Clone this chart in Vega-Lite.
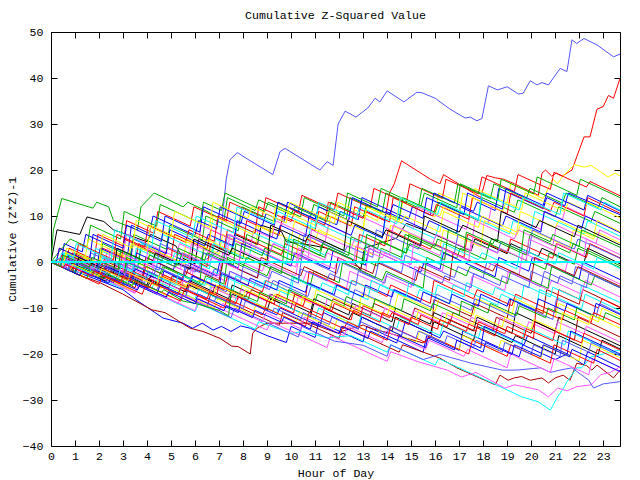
{
"$schema":"https://vega.github.io/schema/vega-lite/v6.json",
"width":569,"height":414,
"autosize":"none",
"padding":{"left":51,"top":32,"right":20,"bottom":34},
"background":"white",
"title":{"text":"Cumulative Z-Squared Value","font":"Liberation Mono","fontSize":11.6,"fontWeight":"normal","color":"black","offset":4,"anchor":"middle"},
"config":{"view":{"stroke":"black","strokeWidth":1},
"axis":{"grid":false,"domain":false,"labelFont":"Liberation Mono","labelFontSize":11.6,"labelColor":"black","titleFont":"Liberation Mono","titleFontSize":11.6,"titleFontWeight":"normal","titleColor":"black","tickColor":"black","tickSize":-6,"tickWidth":1}},
"data":{"values":[
{"s":"a","h":0,"v":0},{"s":"a","h":0.5,"v":-1.2},{"s":"a","h":0.65,"v":1.5},{"s":"a","h":1.5,"v":-0.5},{"s":"a","h":1.65,"v":2},{"s":"a","h":3,"v":-1.2},{"s":"a","h":3.15,"v":1.5},{"s":"a","h":4.5,"v":-1.8},{"s":"a","h":4.65,"v":1},{"s":"a","h":6,"v":-2.2},{"s":"a","h":6.3,"v":0},{"s":"a","h":7,"v":2.5},{"s":"a","h":7.3,"v":18},{"s":"a","h":7.45,"v":22.2},{"s":"a","h":7.76,"v":23.8},{"s":"a","h":8.3,"v":22},{"s":"a","h":9.24,"v":19},{"s":"a","h":9.54,"v":24},{"s":"a","h":9.75,"v":24.7},{"s":"a","h":11.2,"v":20},{"s":"a","h":11.5,"v":21.8},{"s":"a","h":11.75,"v":21},{"s":"a","h":11.96,"v":30},{"s":"a","h":12.25,"v":32.8},{"s":"a","h":12.7,"v":31.5},{"s":"a","h":13.2,"v":33.5},{"s":"a","h":13.5,"v":35.6},{"s":"a","h":13.7,"v":34.8},{"s":"a","h":14,"v":37.2},{"s":"a","h":14.7,"v":34.8},{"s":"a","h":15.24,"v":36.9},{"s":"a","h":15.45,"v":36.8},{"s":"a","h":16,"v":35.6},{"s":"a","h":16.6,"v":33.3},{"s":"a","h":17.25,"v":31.3},{"s":"a","h":17.46,"v":31.5},{"s":"a","h":17.74,"v":30.7},{"s":"a","h":17.95,"v":31.2},{"s":"a","h":18.22,"v":38.3},{"s":"a","h":18.6,"v":37.4},{"s":"a","h":19,"v":38.1},{"s":"a","h":19.47,"v":36.5},{"s":"a","h":19.67,"v":36.7},{"s":"a","h":19.96,"v":39.4},{"s":"a","h":20.24,"v":38.5},{"s":"a","h":20.45,"v":39},{"s":"a","h":20.72,"v":38.5},{"s":"a","h":21.21,"v":42.1},{"s":"a","h":21.49,"v":41.4},{"s":"a","h":21.7,"v":48.3},{"s":"a","h":21.9,"v":47.5},{"s":"a","h":22.2,"v":48.6},{"s":"a","h":22.74,"v":47.2},{"s":"a","h":23.43,"v":44.6},{"s":"a","h":23.7,"v":45.2},
{"s":"b","h":0,"v":0},{"s":"b","h":0.75,"v":-1.8},{"s":"b","h":0.9,"v":2},{"s":"b","h":2,"v":-0.6},{"s":"b","h":2.15,"v":3},{"s":"b","h":3.5,"v":-0.2},{"s":"b","h":3.65,"v":4},{"s":"b","h":5,"v":0.8},{"s":"b","h":5.15,"v":6},{"s":"b","h":6.5,"v":2.8},{"s":"b","h":6.65,"v":7},{"s":"b","h":8,"v":3.8},{"s":"b","h":8.15,"v":9},{"s":"b","h":9.5,"v":5.8},{"s":"b","h":9.65,"v":10},{"s":"b","h":11,"v":6.8},{"s":"b","h":11.15,"v":11},{"s":"b","h":12.5,"v":7.8},{"s":"b","h":12.65,"v":12},{"s":"b","h":13.9,"v":9},{"s":"b","h":14.1,"v":15},{"s":"b","h":14.3,"v":17},{"s":"b","h":14.6,"v":22},{"s":"b","h":15.8,"v":18},{"s":"b","h":16.2,"v":17},{"s":"b","h":16.35,"v":19},{"s":"b","h":17.9,"v":14},{"s":"b","h":18.15,"v":18.8},{"s":"b","h":18.5,"v":18.3},{"s":"b","h":18.85,"v":18},{"s":"b","h":19.3,"v":17},{"s":"b","h":20.3,"v":14.5},{"s":"b","h":20.45,"v":19.3},{"s":"b","h":20.6,"v":20},{"s":"b","h":20.85,"v":18.7},{"s":"b","h":21.05,"v":19.3},{"s":"b","h":21.3,"v":18.7},{"s":"b","h":21.7,"v":20},{"s":"b","h":21.9,"v":22.9},{"s":"b","h":22.2,"v":27.2},{"s":"b","h":22.45,"v":27.2},{"s":"b","h":22.74,"v":33.2},{"s":"b","h":23,"v":33.8},{"s":"b","h":23.22,"v":36.2},{"s":"b","h":23.43,"v":35.6},{"s":"b","h":23.7,"v":39.9},
{"s":"c","h":0,"v":0},{"s":"c","h":1,"v":-2.4},{"s":"c","h":1.15,"v":1},{"s":"c","h":2.5,"v":-2.2},{"s":"c","h":2.65,"v":2},{"s":"c","h":4,"v":-1.2},{"s":"c","h":4.15,"v":3},{"s":"c","h":5.5,"v":-0.2},{"s":"c","h":5.65,"v":5},{"s":"c","h":7,"v":1.8},{"s":"c","h":7.15,"v":6},{"s":"c","h":8.5,"v":2.8},{"s":"c","h":8.65,"v":8},{"s":"c","h":10,"v":4.8},{"s":"c","h":10.15,"v":9},{"s":"c","h":11.5,"v":5.8},{"s":"c","h":11.65,"v":10},{"s":"c","h":13,"v":6.8},{"s":"c","h":13.15,"v":12},{"s":"c","h":14.5,"v":8.8},{"s":"c","h":14.65,"v":13},{"s":"c","h":16,"v":9.8},{"s":"c","h":16.15,"v":15},{"s":"c","h":17.5,"v":11.8},{"s":"c","h":17.65,"v":16},{"s":"c","h":19,"v":12.8},{"s":"c","h":19.15,"v":17},{"s":"c","h":20.5,"v":13.8},{"s":"c","h":20.9,"v":18},{"s":"c","h":21.1,"v":17},{"s":"c","h":21.3,"v":18.5},{"s":"c","h":21.8,"v":21.2},{"s":"c","h":22.2,"v":20.6},{"s":"c","h":22.5,"v":21},{"s":"c","h":23.2,"v":18.5},{"s":"c","h":23.5,"v":19.3},{"s":"c","h":23.7,"v":18.7},
{"s":"l1","h":0,"v":0},{"s":"l1","h":0.1,"v":7},{"s":"l1","h":0.45,"v":13.8},{"s":"l1","h":1.75,"v":11.7},{"s":"l1","h":1.9,"v":13},{"s":"l1","h":2.4,"v":12},{"s":"l1","h":2.6,"v":9},{"s":"l1","h":3.6,"v":7},{"s":"l1","h":3.75,"v":12},{"s":"l1","h":4.3,"v":15},{"s":"l1","h":5.5,"v":12},{"s":"l1","h":5.7,"v":13},{"s":"l1","h":6.5,"v":11},{"s":"l1","h":7.2,"v":9},{"s":"l1","h":7.35,"v":14},{"s":"l1","h":8.5,"v":11.2},{"s":"l1","h":8.65,"v":13.5},{"s":"l1","h":10,"v":10.3},{"s":"l1","h":10.15,"v":12},{"s":"l1","h":11.5,"v":8.8},{"s":"l1","h":11.65,"v":13},{"s":"l1","h":13,"v":9.8},{"s":"l1","h":13.15,"v":12.5},{"s":"l1","h":14.5,"v":9.3},{"s":"l1","h":14.65,"v":14},{"s":"l1","h":16,"v":10.8},{"s":"l1","h":16.15,"v":13},{"s":"l1","h":17.8,"v":9},{"s":"l1","h":17.95,"v":14},{"s":"l1","h":19.3,"v":10.8},{"s":"l1","h":19.45,"v":13.5},{"s":"l1","h":21,"v":9.8},{"s":"l1","h":21.15,"v":12},{"s":"l1","h":22.5,"v":8.8},{"s":"l1","h":22.65,"v":11},{"s":"l1","h":23.7,"v":8.4},
{"s":"l2","h":0,"v":0},{"s":"l2","h":0.25,"v":7},{"s":"l2","h":1.2,"v":6},{"s":"l2","h":1.5,"v":9.8},{"s":"l2","h":2.2,"v":8.8},{"s":"l2","h":2.6,"v":7},{"s":"l2","h":4,"v":4.4},{"s":"l2","h":4.15,"v":6},{"s":"l2","h":5.2,"v":3.5},{"s":"l2","h":5.5,"v":0.8},{"s":"l2","h":6,"v":-0.4},{"s":"l2","h":6.15,"v":5},{"s":"l2","h":7.5,"v":1.8},{"s":"l2","h":7.65,"v":6},{"s":"l2","h":8.6,"v":3.8},{"s":"l2","h":8.75,"v":8},{"s":"l2","h":9.6,"v":6.6},{"s":"l2","h":9.8,"v":4.4},{"s":"l2","h":10.8,"v":3.7},{"s":"l2","h":11.5,"v":3},{"s":"l2","h":12.5,"v":0.7},{"s":"l2","h":12.9,"v":-1.7},{"s":"l2","h":13.05,"v":3},{"s":"l2","h":14.4,"v":5.2},{"s":"l2","h":14.8,"v":8.4},{"s":"l2","h":15.5,"v":7},{"s":"l2","h":16.5,"v":4.8},{"s":"l2","h":17,"v":3.6},{"s":"l2","h":17.5,"v":2.4},{"s":"l2","h":17.65,"v":5},{"s":"l2","h":19,"v":1.8},{"s":"l2","h":19.15,"v":4},{"s":"l2","h":20.3,"v":1.2},{"s":"l2","h":20.45,"v":3},{"s":"l2","h":21.6,"v":0.2},{"s":"l2","h":22.2,"v":-0.2},{"s":"l2","h":22.35,"v":3},{"s":"l2","h":23,"v":1.4},{"s":"l2","h":23.7,"v":-0.4},
{"s":"l3","h":0,"v":0},{"s":"l3","h":1,"v":-2},{"s":"l3","h":2,"v":-4},{"s":"l3","h":3,"v":-6},{"s":"l3","h":3.57,"v":-8.3},{"s":"l3","h":4.67,"v":-12.2},{"s":"l3","h":5.5,"v":-13.3},{"s":"l3","h":5.9,"v":-14.4},{"s":"l3","h":6.3,"v":-13.3},{"s":"l3","h":6.75,"v":-14.8},{"s":"l3","h":7.1,"v":-14},{"s":"l3","h":7.5,"v":-15.1},{"s":"l3","h":7.9,"v":-13.9},{"s":"l3","h":8.3,"v":-14.4},{"s":"l3","h":9,"v":-16},{"s":"l3","h":9.8,"v":-17.5},{"s":"l3","h":10,"v":-14},{"s":"l3","h":11,"v":-16.4},{"s":"l3","h":11.15,"v":-13},{"s":"l3","h":12.5,"v":-16.2},{"s":"l3","h":13,"v":-17.4},{"s":"l3","h":13.15,"v":-14},{"s":"l3","h":14.5,"v":-17.2},{"s":"l3","h":15.5,"v":-19.6},{"s":"l3","h":15.65,"v":-16},{"s":"l3","h":17,"v":-19.2},{"s":"l3","h":17.15,"v":-15},{"s":"l3","h":18.5,"v":-18.2},{"s":"l3","h":19.5,"v":-20.6},{"s":"l3","h":19.65,"v":-18},{"s":"l3","h":21,"v":-21.2},{"s":"l3","h":21.5,"v":-20},{"s":"l3","h":22.2,"v":-22.4},{"s":"l3","h":22.35,"v":-19.5},{"s":"l3","h":23.7,"v":-22.9},
{"s":"d","h":0,"v":0},{"s":"d","h":0.5,"v":-1},{"s":"d","h":1,"v":-2.5},{"s":"d","h":2,"v":-4.4},{"s":"d","h":3,"v":-7},{"s":"d","h":4.2,"v":-10.4},{"s":"d","h":4.75,"v":-11},{"s":"d","h":5.8,"v":-14.4},{"s":"d","h":6.33,"v":-15.1},{"s":"d","h":7.04,"v":-16.6},{"s":"d","h":7.53,"v":-18.3},{"s":"d","h":7.8,"v":-18.4},{"s":"d","h":8.3,"v":-20},{"s":"d","h":8.4,"v":-15.5},{"s":"d","h":8.6,"v":-14.3},{"s":"d","h":9,"v":-13.3},{"s":"d","h":10.8,"v":-13.3},{"s":"d","h":11.9,"v":-15.4},{"s":"d","h":13,"v":-13.7},{"s":"d","h":13.3,"v":-14.4},{"s":"d","h":14.1,"v":-15.5},{"s":"d","h":15.5,"v":-17.6},{"s":"d","h":15.85,"v":-16},{"s":"d","h":15.95,"v":-8.2},{"s":"d","h":16.5,"v":-9.5},{"s":"d","h":17.5,"v":-11.8},{"s":"d","h":17.65,"v":-9},{"s":"d","h":19,"v":-12.2},{"s":"d","h":19.15,"v":-8},{"s":"d","h":20.5,"v":-11.2},{"s":"d","h":20.65,"v":-6},{"s":"d","h":22,"v":-9.2},{"s":"d","h":22.15,"v":-6},{"s":"d","h":23.7,"v":-9.8},
{"s":"e","h":0,"v":0},{"s":"e","h":1,"v":-2.4},{"s":"e","h":1.15,"v":0},{"s":"e","h":2.5,"v":-3.2},{"s":"e","h":3.5,"v":-5.6},{"s":"e","h":3.65,"v":-3},{"s":"e","h":5,"v":-6.2},{"s":"e","h":6.5,"v":-9.8},{"s":"e","h":6.65,"v":-7},{"s":"e","h":8,"v":-10.2},{"s":"e","h":9.5,"v":-13.8},{"s":"e","h":9.65,"v":-11},{"s":"e","h":11,"v":-14.2},{"s":"e","h":12,"v":-16.6},{"s":"e","h":12.15,"v":-14},{"s":"e","h":13.5,"v":-17.2},{"s":"e","h":14.5,"v":-19.6},{"s":"e","h":14.65,"v":-18},{"s":"e","h":16.2,"v":-20.9},{"s":"e","h":16.9,"v":-23},{"s":"e","h":18.5,"v":-26.7},{"s":"e","h":18.7,"v":-24.6},{"s":"e","h":19.04,"v":-25.7},{"s":"e","h":19.3,"v":-25.2},{"s":"e","h":19.6,"v":-24.9},{"s":"e","h":19.96,"v":-25.7},{"s":"e","h":20.45,"v":-25.2},{"s":"e","h":20.72,"v":-26.3},{"s":"e","h":21,"v":-25.2},{"s":"e","h":21.33,"v":-24.6},{"s":"e","h":21.62,"v":-25.7},{"s":"e","h":21.9,"v":-22},{"s":"e","h":22.3,"v":-22.5},{"s":"e","h":22.53,"v":-23.5},{"s":"e","h":22.74,"v":-22.4},{"s":"e","h":23.43,"v":-25.2},{"s":"e","h":23.7,"v":-23.5},
{"s":"f","h":0,"v":0},{"s":"f","h":1,"v":-2},{"s":"f","h":2,"v":-3.5},{"s":"f","h":3,"v":-5.8},{"s":"f","h":3.15,"v":-4},{"s":"f","h":4.5,"v":-7.2},{"s":"f","h":6,"v":-10.8},{"s":"f","h":6.15,"v":-9},{"s":"f","h":7.5,"v":-12.2},{"s":"f","h":8.5,"v":-14.6},{"s":"f","h":8.65,"v":-13},{"s":"f","h":10,"v":-15.5},{"s":"f","h":10.5,"v":-15.1},{"s":"f","h":11.5,"v":-16.5},{"s":"f","h":12.5,"v":-16},{"s":"f","h":14,"v":-19.6},{"s":"f","h":14.15,"v":-18},{"s":"f","h":16,"v":-22.4},{"s":"f","h":16.15,"v":-21},{"s":"f","h":18,"v":-25.4},{"s":"f","h":19,"v":-27.8},{"s":"f","h":19.6,"v":-29.3},{"s":"f","h":20.3,"v":-30.4},{"s":"f","h":20.8,"v":-32.2},{"s":"f","h":21.1,"v":-29.3},{"s":"f","h":21.3,"v":-27.8},{"s":"f","h":21.5,"v":-26},{"s":"f","h":21.9,"v":-23},{"s":"f","h":22.1,"v":-23},{"s":"f","h":22.5,"v":-20.6},{"s":"f","h":23,"v":-20},{"s":"f","h":23.7,"v":-19.1},
{"s":"g","h":0,"v":0},{"s":"g","h":1,"v":-2.4},{"s":"g","h":1.15,"v":-1},{"s":"g","h":2.5,"v":-4.2},{"s":"g","h":3.5,"v":-6.6},{"s":"g","h":3.65,"v":-5},{"s":"g","h":5,"v":-8.2},{"s":"g","h":6,"v":-10.6},{"s":"g","h":6.15,"v":-8},{"s":"g","h":7.5,"v":-11.2},{"s":"g","h":9,"v":-14.8},{"s":"g","h":9.15,"v":-13},{"s":"g","h":10.5,"v":-16.2},{"s":"g","h":11.5,"v":-18.6},{"s":"g","h":11.65,"v":-16},{"s":"g","h":13,"v":-19.2},{"s":"g","h":14,"v":-21.6},{"s":"g","h":14.15,"v":-19.5},{"s":"g","h":15.3,"v":-21.7},{"s":"g","h":16.5,"v":-23.5},{"s":"g","h":17.1,"v":-25},{"s":"g","h":17.7,"v":-24},{"s":"g","h":18.9,"v":-27.4},{"s":"g","h":19.3,"v":-26.7},{"s":"g","h":19.96,"v":-27.4},{"s":"g","h":20.3,"v":-27.8},{"s":"g","h":20.72,"v":-29.3},{"s":"g","h":21.1,"v":-27.4},{"s":"g","h":21.5,"v":-28},{"s":"g","h":21.9,"v":-27.1},{"s":"g","h":22.5,"v":-26.7},{"s":"g","h":22.9,"v":-24.5},{"s":"g","h":23.3,"v":-24},{"s":"g","h":23.7,"v":-22.8},
{"s":"hh","h":0,"v":0},{"s":"hh","h":0.8,"v":-2},{"s":"hh","h":0.95,"v":-0.5},{"s":"hh","h":2.2,"v":-3.5},{"s":"hh","h":2.35,"v":-2},{"s":"hh","h":3.6,"v":-5},{"s":"hh","h":4.8,"v":-7.9},{"s":"hh","h":4.95,"v":-6},{"s":"hh","h":6.3,"v":-9.2},{"s":"hh","h":7.5,"v":-12.1},{"s":"hh","h":7.65,"v":-10},{"s":"hh","h":9,"v":-13.2},{"s":"hh","h":10.3,"v":-16.3},{"s":"hh","h":10.45,"v":-14},{"s":"hh","h":11.8,"v":-17.2},{"s":"hh","h":13,"v":-18.1},{"s":"hh","h":14,"v":-20.5},{"s":"hh","h":14.15,"v":-18},{"s":"hh","h":15.5,"v":-21.2},{"s":"hh","h":16.2,"v":-20.1},{"s":"hh","h":17.5,"v":-22},{"s":"hh","h":18.8,"v":-23.5},{"s":"hh","h":19.4,"v":-23.5},{"s":"hh","h":20.4,"v":-23},{"s":"hh","h":20.8,"v":-24},{"s":"hh","h":21.2,"v":-23.5},{"s":"hh","h":21.7,"v":-23},{"s":"hh","h":22.4,"v":-25.7},{"s":"hh","h":22.6,"v":-27.4},{"s":"hh","h":23,"v":-26.5},{"s":"hh","h":23.7,"v":-26},
{"s":"m1","h":0,"v":0},{"s":"m1","h":0.6,"v":-1.4},{"s":"m1","h":0.75,"v":3},{"s":"m1","h":1.8,"v":0.5},{"s":"m1","h":1.95,"v":6},{"s":"m1","h":3,"v":3.5},{"s":"m1","h":3.15,"v":9},{"s":"m1","h":4.3,"v":6.2},{"s":"m1","h":4.45,"v":11},{"s":"m1","h":5.8,"v":7.8},{"s":"m1","h":5.95,"v":12},{"s":"m1","h":7.3,"v":8.8},{"s":"m1","h":7.45,"v":13},{"s":"m1","h":8.8,"v":9.8},{"s":"m1","h":8.95,"v":14},{"s":"m1","h":10.3,"v":10.8},{"s":"m1","h":10.45,"v":14.5},{"s":"m1","h":11.8,"v":11.3},{"s":"m1","h":11.95,"v":15},{"s":"m1","h":13.3,"v":11.8},{"s":"m1","h":13.45,"v":16},{"s":"m1","h":14.8,"v":12.8},{"s":"m1","h":14.95,"v":17},{"s":"m1","h":16.3,"v":13.8},{"s":"m1","h":16.45,"v":18},{"s":"m1","h":17.8,"v":14.8},{"s":"m1","h":17.95,"v":18.5},{"s":"m1","h":19.3,"v":15.3},{"s":"m1","h":19.45,"v":19},{"s":"m1","h":20.8,"v":15.8},{"s":"m1","h":20.95,"v":19.5},{"s":"m1","h":22.3,"v":16.3},{"s":"m1","h":22.45,"v":17.5},{"s":"m1","h":23.7,"v":14.4},
{"s":"m2","h":0,"v":0},{"s":"m2","h":0.5,"v":-1.2},{"s":"m2","h":0.65,"v":2},{"s":"m2","h":2,"v":-1.2},{"s":"m2","h":2.15,"v":4},{"s":"m2","h":3.3,"v":1.2},{"s":"m2","h":3.45,"v":6},{"s":"m2","h":4.8,"v":2.8},{"s":"m2","h":4.95,"v":8},{"s":"m2","h":6.3,"v":4.8},{"s":"m2","h":6.45,"v":10},{"s":"m2","h":7.8,"v":6.8},{"s":"m2","h":7.95,"v":12},{"s":"m2","h":9.3,"v":8.8},{"s":"m2","h":9.45,"v":13},{"s":"m2","h":10.8,"v":9.8},{"s":"m2","h":10.95,"v":12.5},{"s":"m2","h":12.3,"v":9.3},{"s":"m2","h":12.45,"v":14},{"s":"m2","h":13.8,"v":10.8},{"s":"m2","h":13.95,"v":15},{"s":"m2","h":15.3,"v":11.8},{"s":"m2","h":15.45,"v":16},{"s":"m2","h":16.8,"v":12.8},{"s":"m2","h":16.95,"v":17},{"s":"m2","h":18.3,"v":13.8},{"s":"m2","h":18.45,"v":17},{"s":"m2","h":19.8,"v":13.8},{"s":"m2","h":19.95,"v":16},{"s":"m2","h":21.3,"v":12.8},{"s":"m2","h":21.45,"v":15},{"s":"m2","h":22.8,"v":11.8},{"s":"m2","h":22.95,"v":14},{"s":"m2","h":23.7,"v":12},
{"s":"m3","h":0,"v":0},{"s":"m3","h":0.4,"v":-1},{"s":"m3","h":0.55,"v":4},{"s":"m3","h":1.3,"v":2.2},{"s":"m3","h":1.45,"v":6},{"s":"m3","h":3.2,"v":1.8},{"s":"m3","h":3.35,"v":8},{"s":"m3","h":4.1,"v":6.2},{"s":"m3","h":4.25,"v":10},{"s":"m3","h":6,"v":5.8},{"s":"m3","h":6.15,"v":9},{"s":"m3","h":6.9,"v":7.2},{"s":"m3","h":7.05,"v":12},{"s":"m3","h":8.8,"v":7.8},{"s":"m3","h":8.95,"v":10.5},{"s":"m3","h":9.7,"v":8.7},{"s":"m3","h":9.85,"v":13},{"s":"m3","h":11.9,"v":8.1},{"s":"m3","h":12.05,"v":11},{"s":"m3","h":12.8,"v":9.2},{"s":"m3","h":12.95,"v":14},{"s":"m3","h":14.9,"v":9.3},{"s":"m3","h":15.05,"v":12},{"s":"m3","h":15.8,"v":10.2},{"s":"m3","h":15.95,"v":15},{"s":"m3","h":17.6,"v":11},{"s":"m3","h":17.75,"v":13},{"s":"m3","h":18.5,"v":11.2},{"s":"m3","h":18.65,"v":16},{"s":"m3","h":20.5,"v":11.6},{"s":"m3","h":20.65,"v":14},{"s":"m3","h":21.4,"v":12.2},{"s":"m3","h":21.55,"v":15},{"s":"m3","h":23.7,"v":10.3},
{"s":"m4","h":0,"v":0},{"s":"m4","h":0.8,"v":-1.9},{"s":"m4","h":0.95,"v":1},{"s":"m4","h":2.2,"v":-2},{"s":"m4","h":2.35,"v":3},{"s":"m4","h":3,"v":1.4},{"s":"m4","h":3.15,"v":6},{"s":"m4","h":5.2,"v":1.1},{"s":"m4","h":5.35,"v":4},{"s":"m4","h":6.1,"v":2.2},{"s":"m4","h":6.25,"v":8},{"s":"m4","h":8.3,"v":3.1},{"s":"m4","h":8.45,"v":7},{"s":"m4","h":9.2,"v":5.2},{"s":"m4","h":9.35,"v":9},{"s":"m4","h":11.4,"v":4.1},{"s":"m4","h":11.55,"v":8},{"s":"m4","h":12.3,"v":6.2},{"s":"m4","h":12.45,"v":11},{"s":"m4","h":14.2,"v":6.8},{"s":"m4","h":14.35,"v":9},{"s":"m4","h":15.1,"v":7.2},{"s":"m4","h":15.25,"v":12},{"s":"m4","h":17.3,"v":7.1},{"s":"m4","h":17.45,"v":10},{"s":"m4","h":18.2,"v":8.2},{"s":"m4","h":18.35,"v":12},{"s":"m4","h":20.4,"v":7.1},{"s":"m4","h":20.55,"v":11},{"s":"m4","h":21.3,"v":9.2},{"s":"m4","h":21.45,"v":12},{"s":"m4","h":23.7,"v":6.5},
{"s":"m5","h":0,"v":0},{"s":"m5","h":0.3,"v":-0.7},{"s":"m5","h":0.45,"v":2},{"s":"m5","h":1.7,"v":-1},{"s":"m5","h":1.85,"v":3},{"s":"m5","h":3.6,"v":-1.2},{"s":"m5","h":3.75,"v":4},{"s":"m5","h":4.5,"v":2.2},{"s":"m5","h":4.65,"v":6},{"s":"m5","h":6.7,"v":1.1},{"s":"m5","h":6.85,"v":5},{"s":"m5","h":7.6,"v":3.2},{"s":"m5","h":7.75,"v":8},{"s":"m5","h":9.8,"v":3.1},{"s":"m5","h":9.95,"v":6},{"s":"m5","h":10.7,"v":4.2},{"s":"m5","h":10.85,"v":9},{"s":"m5","h":12.9,"v":4.1},{"s":"m5","h":13.05,"v":7},{"s":"m5","h":13.8,"v":5.2},{"s":"m5","h":13.95,"v":10},{"s":"m5","h":16,"v":5.1},{"s":"m5","h":16.15,"v":8},{"s":"m5","h":16.9,"v":6.2},{"s":"m5","h":17.05,"v":11},{"s":"m5","h":19.1,"v":6.1},{"s":"m5","h":19.25,"v":9},{"s":"m5","h":20,"v":7.2},{"s":"m5","h":20.15,"v":11},{"s":"m5","h":22.2,"v":6.1},{"s":"m5","h":22.35,"v":9},{"s":"m5","h":23.7,"v":5.6},
{"s":"m6","h":0,"v":0},{"s":"m6","h":1.2,"v":-2.9},{"s":"m6","h":1.35,"v":1},{"s":"m6","h":2,"v":-0.6},{"s":"m6","h":2.15,"v":2.5},{"s":"m6","h":4,"v":-2},{"s":"m6","h":4.15,"v":3},{"s":"m6","h":5.6,"v":-0.5},{"s":"m6","h":5.75,"v":2},{"s":"m6","h":6.3,"v":0.7},{"s":"m6","h":6.45,"v":5},{"s":"m6","h":8.9,"v":-0.9},{"s":"m6","h":9.05,"v":4},{"s":"m6","h":10.2,"v":1.2},{"s":"m6","h":10.35,"v":6},{"s":"m6","h":11,"v":4.4},{"s":"m6","h":11.15,"v":7},{"s":"m6","h":13.4,"v":1.6},{"s":"m6","h":13.55,"v":5},{"s":"m6","h":14,"v":3.9},{"s":"m6","h":14.15,"v":8},{"s":"m6","h":16.2,"v":3.1},{"s":"m6","h":16.35,"v":7},{"s":"m6","h":17.9,"v":3.3},{"s":"m6","h":18.05,"v":9},{"s":"m6","h":19.4,"v":5.8},{"s":"m6","h":19.55,"v":8},{"s":"m6","h":21.6,"v":3.1},{"s":"m6","h":21.75,"v":7},{"s":"m6","h":22.6,"v":5},{"s":"m6","h":22.75,"v":6.5},{"s":"m6","h":23.7,"v":4.1},
{"s":"m7","h":0,"v":0},{"s":"m7","h":0.2,"v":-0.5},{"s":"m7","h":0.35,"v":3},{"s":"m7","h":2.1,"v":-1.2},{"s":"m7","h":2.25,"v":1},{"s":"m7","h":2.9,"v":-0.6},{"s":"m7","h":3.05,"v":5},{"s":"m7","h":4.7,"v":1},{"s":"m7","h":4.85,"v":3},{"s":"m7","h":6.5,"v":-1},{"s":"m7","h":6.65,"v":4},{"s":"m7","h":7.2,"v":2.7},{"s":"m7","h":7.35,"v":7},{"s":"m7","h":9.6,"v":1.6},{"s":"m7","h":9.75,"v":4},{"s":"m7","h":10.5,"v":2.2},{"s":"m7","h":10.65,"v":5},{"s":"m7","h":12.7,"v":0.1},{"s":"m7","h":12.85,"v":6},{"s":"m7","h":13.9,"v":3.5},{"s":"m7","h":14.05,"v":7},{"s":"m7","h":15.8,"v":2.8},{"s":"m7","h":15.95,"v":4},{"s":"m7","h":17.2,"v":1},{"s":"m7","h":17.35,"v":6},{"s":"m7","h":19,"v":2},{"s":"m7","h":19.15,"v":5},{"s":"m7","h":20.9,"v":0.8},{"s":"m7","h":21.05,"v":4},{"s":"m7","h":22.3,"v":1},{"s":"m7","h":22.45,"v":4},{"s":"m7","h":23.7,"v":0.9},
{"s":"m8","h":0,"v":0},{"s":"m8","h":0.9,"v":-2.2},{"s":"m8","h":1.05,"v":2},{"s":"m8","h":2.8,"v":-2.2},{"s":"m8","h":2.95,"v":0},{"s":"m8","h":3.6,"v":-1.6},{"s":"m8","h":3.75,"v":3},{"s":"m8","h":5.3,"v":-0.7},{"s":"m8","h":5.45,"v":2},{"s":"m8","h":7.1,"v":-2},{"s":"m8","h":7.25,"v":2.5},{"s":"m8","h":8,"v":0.7},{"s":"m8","h":8.15,"v":6},{"s":"m8","h":10.4,"v":0.6},{"s":"m8","h":10.55,"v":3},{"s":"m8","h":11.2,"v":1.4},{"s":"m8","h":11.35,"v":4.5},{"s":"m8","h":13.6,"v":-0.9},{"s":"m8","h":13.75,"v":3},{"s":"m8","h":14.6,"v":1},{"s":"m8","h":14.75,"v":6},{"s":"m8","h":16.9,"v":0.8},{"s":"m8","h":17.05,"v":3},{"s":"m8","h":18.1,"v":0.5},{"s":"m8","h":18.25,"v":4},{"s":"m8","h":20.6,"v":-1.6},{"s":"m8","h":20.75,"v":2},{"s":"m8","h":21.8,"v":-0.5},{"s":"m8","h":21.95,"v":3},{"s":"m8","h":23.7,"v":-1.2},
{"s":"m9","h":0,"v":0},{"s":"m9","h":0.5,"v":-1.2},{"s":"m9","h":0.65,"v":1},{"s":"m9","h":1.9,"v":-2},{"s":"m9","h":2.05,"v":0},{"s":"m9","h":3.4,"v":-3.2},{"s":"m9","h":3.55,"v":2},{"s":"m9","h":5.1,"v":-1.7},{"s":"m9","h":5.25,"v":1},{"s":"m9","h":6.9,"v":-3},{"s":"m9","h":7.05,"v":0.5},{"s":"m9","h":7.8,"v":-1.3},{"s":"m9","h":7.95,"v":4},{"s":"m9","h":10,"v":-0.9},{"s":"m9","h":10.15,"v":2},{"s":"m9","h":11.6,"v":-1.5},{"s":"m9","h":11.75,"v":2.5},{"s":"m9","h":13.1,"v":-0.7},{"s":"m9","h":13.25,"v":3},{"s":"m9","h":15.4,"v":-2.2},{"s":"m9","h":15.55,"v":0},{"s":"m9","h":16.2,"v":-1.6},{"s":"m9","h":16.35,"v":2},{"s":"m9","h":18.5,"v":-3.2},{"s":"m9","h":18.65,"v":1},{"s":"m9","h":19.9,"v":-2},{"s":"m9","h":20.05,"v":1},{"s":"m9","h":22,"v":-3.7},{"s":"m9","h":22.15,"v":0},{"s":"m9","h":23.7,"v":-3.8},
{"s":"m10","h":0,"v":0},{"s":"m10","h":0.7,"v":-1.7},{"s":"m10","h":0.85,"v":0},{"s":"m10","h":2.4,"v":-3.7},{"s":"m10","h":2.55,"v":-1},{"s":"m10","h":3.8,"v":-4},{"s":"m10","h":3.95,"v":0},{"s":"m10","h":5.5,"v":-3.7},{"s":"m10","h":5.65,"v":-1},{"s":"m10","h":6.2,"v":-2.3},{"s":"m10","h":6.35,"v":2},{"s":"m10","h":8.6,"v":-3.4},{"s":"m10","h":8.75,"v":0},{"s":"m10","h":10.3,"v":-3.7},{"s":"m10","h":10.45,"v":1},{"s":"m10","h":11.9,"v":-2.5},{"s":"m10","h":12.05,"v":0},{"s":"m10","h":13.5,"v":-3.5},{"s":"m10","h":13.65,"v":0},{"s":"m10","h":14.6,"v":-2.3},{"s":"m10","h":14.75,"v":1.5},{"s":"m10","h":16.8,"v":-3.4},{"s":"m10","h":16.95,"v":-1},{"s":"m10","h":18,"v":-3.5},{"s":"m10","h":18.15,"v":0},{"s":"m10","h":20.4,"v":-5.4},{"s":"m10","h":20.55,"v":-2},{"s":"m10","h":21.7,"v":-4.8},{"s":"m10","h":21.85,"v":-1},{"s":"m10","h":23.7,"v":-5.6},
{"s":"m11","h":0,"v":0},{"s":"m11","h":1.1,"v":-2.6},{"s":"m11","h":1.25,"v":-1},{"s":"m11","h":2.6,"v":-4.2},{"s":"m11","h":2.75,"v":0},{"s":"m11","h":4.2,"v":-3.5},{"s":"m11","h":4.35,"v":-2},{"s":"m11","h":5.8,"v":-5.5},{"s":"m11","h":5.95,"v":-1},{"s":"m11","h":7.3,"v":-4.2},{"s":"m11","h":7.45,"v":-2},{"s":"m11","h":9,"v":-5.7},{"s":"m11","h":9.15,"v":-1},{"s":"m11","h":10.5,"v":-4.2},{"s":"m11","h":10.65,"v":-2},{"s":"m11","h":12.3,"v":-6},{"s":"m11","h":12.45,"v":-2},{"s":"m11","h":13.8,"v":-5.2},{"s":"m11","h":13.95,"v":-3},{"s":"m11","h":15,"v":-5.5},{"s":"m11","h":15.15,"v":-1},{"s":"m11","h":17.4,"v":-6.4},{"s":"m11","h":17.55,"v":-3},{"s":"m11","h":18.9,"v":-6.2},{"s":"m11","h":19.05,"v":-2},{"s":"m11","h":20.7,"v":-6},{"s":"m11","h":20.85,"v":-4},{"s":"m11","h":22.1,"v":-7},{"s":"m11","h":22.25,"v":-4},{"s":"m11","h":23.7,"v":-7.6},
{"s":"m12","h":0,"v":0},{"s":"m12","h":0.6,"v":-1.4},{"s":"m12","h":0.75,"v":1},{"s":"m12","h":1.8,"v":-1.5},{"s":"m12","h":1.95,"v":-0.5},{"s":"m12","h":3.4,"v":-4},{"s":"m12","h":3.55,"v":-1},{"s":"m12","h":5,"v":-4.5},{"s":"m12","h":5.15,"v":-3},{"s":"m12","h":6.6,"v":-6.5},{"s":"m12","h":6.75,"v":-2},{"s":"m12","h":8.4,"v":-6},{"s":"m12","h":8.55,"v":-4},{"s":"m12","h":9.9,"v":-7.2},{"s":"m12","h":10.05,"v":-3},{"s":"m12","h":11.7,"v":-7},{"s":"m12","h":11.85,"v":-5},{"s":"m12","h":13.2,"v":-8.2},{"s":"m12","h":13.35,"v":-4},{"s":"m12","h":15.2,"v":-8.4},{"s":"m12","h":15.35,"v":-6},{"s":"m12","h":16.6,"v":-9},{"s":"m12","h":16.75,"v":-5},{"s":"m12","h":18.6,"v":-9.4},{"s":"m12","h":18.75,"v":-7},{"s":"m12","h":20.2,"v":-10.5},{"s":"m12","h":20.35,"v":-6},{"s":"m12","h":22.1,"v":-10.2},{"s":"m12","h":22.25,"v":-7},{"s":"m12","h":23.7,"v":-10.6},
{"s":"m13","h":0,"v":0},{"s":"m13","h":1.3,"v":-3.1},{"s":"m13","h":1.45,"v":-1},{"s":"m13","h":2.9,"v":-4.5},{"s":"m13","h":3.05,"v":-2},{"s":"m13","h":4.6,"v":-5.7},{"s":"m13","h":4.75,"v":-3},{"s":"m13","h":6,"v":-6},{"s":"m13","h":6.15,"v":-4},{"s":"m13","h":7.8,"v":-8},{"s":"m13","h":7.95,"v":-5},{"s":"m13","h":9.4,"v":-8.5},{"s":"m13","h":9.55,"v":-6},{"s":"m13","h":10.9,"v":-9.2},{"s":"m13","h":11.05,"v":-6},{"s":"m13","h":12.8,"v":-10.2},{"s":"m13","h":12.95,"v":-7},{"s":"m13","h":14.3,"v":-10.2},{"s":"m13","h":14.45,"v":-7},{"s":"m13","h":16,"v":-10.7},{"s":"m13","h":16.15,"v":-8},{"s":"m13","h":17.6,"v":-11.5},{"s":"m13","h":17.75,"v":-8},{"s":"m13","h":19.2,"v":-11.5},{"s":"m13","h":19.35,"v":-8},{"s":"m13","h":21,"v":-12},{"s":"m13","h":21.15,"v":-9},{"s":"m13","h":22.8,"v":-13},{"s":"m13","h":22.95,"v":-10},{"s":"m13","h":23.7,"v":-11.9},
{"s":"m14","h":0,"v":0},{"s":"m14","h":0.4,"v":-1},{"s":"m14","h":0.55,"v":1},{"s":"m14","h":1.6,"v":-1.5},{"s":"m14","h":1.75,"v":0},{"s":"m14","h":3.2,"v":-3.5},{"s":"m14","h":3.35,"v":-2},{"s":"m14","h":4.9,"v":-5.7},{"s":"m14","h":5.05,"v":-3},{"s":"m14","h":6.7,"v":-7},{"s":"m14","h":6.85,"v":-5},{"s":"m14","h":8.2,"v":-8.2},{"s":"m14","h":8.35,"v":-6},{"s":"m14","h":10,"v":-10},{"s":"m14","h":10.15,"v":-7},{"s":"m14","h":11.6,"v":-10.5},{"s":"m14","h":11.75,"v":-8},{"s":"m14","h":13.3,"v":-11.7},{"s":"m14","h":13.45,"v":-9},{"s":"m14","h":15,"v":-12.7},{"s":"m14","h":15.15,"v":-10},{"s":"m14","h":16.6,"v":-13.5},{"s":"m14","h":16.75,"v":-11},{"s":"m14","h":18.4,"v":-15},{"s":"m14","h":18.55,"v":-12},{"s":"m14","h":20,"v":-15.5},{"s":"m14","h":20.15,"v":-13},{"s":"m14","h":21.8,"v":-17},{"s":"m14","h":21.95,"v":-12},{"s":"m14","h":23.7,"v":-16.3},
{"s":"m15","h":0,"v":0},{"s":"m15","h":0.8,"v":-1.9},{"s":"m15","h":0.95,"v":-1},{"s":"m15","h":2.3,"v":-4.2},{"s":"m15","h":2.45,"v":-2},{"s":"m15","h":4,"v":-5.7},{"s":"m15","h":4.15,"v":-4},{"s":"m15","h":5.6,"v":-7.5},{"s":"m15","h":5.75,"v":-5},{"s":"m15","h":7.4,"v":-9},{"s":"m15","h":7.55,"v":-7},{"s":"m15","h":9,"v":-10.5},{"s":"m15","h":9.15,"v":-8},{"s":"m15","h":10.8,"v":-12},{"s":"m15","h":10.95,"v":-9},{"s":"m15","h":12.4,"v":-12.5},{"s":"m15","h":12.55,"v":-11},{"s":"m15","h":14.2,"v":-15},{"s":"m15","h":14.35,"v":-12},{"s":"m15","h":15.8,"v":-15.5},{"s":"m15","h":15.95,"v":-13},{"s":"m15","h":17.6,"v":-17},{"s":"m15","h":17.75,"v":-14},{"s":"m15","h":19.2,"v":-17.5},{"s":"m15","h":19.35,"v":-16},{"s":"m15","h":21,"v":-20},{"s":"m15","h":21.15,"v":-16},{"s":"m15","h":22.8,"v":-20},{"s":"m15","h":22.95,"v":-17},{"s":"m15","h":23.7,"v":-18.9},
{"s":"m16","h":0,"v":0},{"s":"m16","h":0.3,"v":2},{"s":"m16","h":0.8,"v":5},{"s":"m16","h":1.5,"v":3.3},{"s":"m16","h":1.65,"v":8},{"s":"m16","h":2.9,"v":5},{"s":"m16","h":3.05,"v":11},{"s":"m16","h":4.4,"v":7.8},{"s":"m16","h":4.55,"v":12.5},{"s":"m16","h":6.2,"v":8.5},{"s":"m16","h":6.35,"v":13},{"s":"m16","h":7.1,"v":11.2},{"s":"m16","h":7.25,"v":15},{"s":"m16","h":8.9,"v":11},{"s":"m16","h":9.05,"v":13},{"s":"m16","h":10.4,"v":9.8},{"s":"m16","h":10.55,"v":14},{"s":"m16","h":12.2,"v":10},{"s":"m16","h":12.35,"v":15},{"s":"m16","h":13.6,"v":12},{"s":"m16","h":13.75,"v":16},{"s":"m16","h":15.4,"v":12},{"s":"m16","h":15.55,"v":15},{"s":"m16","h":16.9,"v":11.8},{"s":"m16","h":17.05,"v":17},{"s":"m16","h":18.6,"v":13.3},{"s":"m16","h":18.75,"v":18},{"s":"m16","h":20.1,"v":14.8},{"s":"m16","h":20.25,"v":18.5},{"s":"m16","h":21.9,"v":14.5},{"s":"m16","h":22.05,"v":18},{"s":"m16","h":23.7,"v":14},
{"s":"m17","h":0,"v":0},{"s":"m17","h":0.5,"v":1},{"s":"m17","h":1,"v":-0.2},{"s":"m17","h":1.15,"v":4},{"s":"m17","h":2.6,"v":0.5},{"s":"m17","h":2.75,"v":6},{"s":"m17","h":3.9,"v":3.2},{"s":"m17","h":4.05,"v":8},{"s":"m17","h":5.6,"v":4.3},{"s":"m17","h":5.75,"v":7},{"s":"m17","h":6.8,"v":4.5},{"s":"m17","h":6.95,"v":10},{"s":"m17","h":8.5,"v":6.3},{"s":"m17","h":8.65,"v":12},{"s":"m17","h":10,"v":8.8},{"s":"m17","h":10.15,"v":11},{"s":"m17","h":11.4,"v":8},{"s":"m17","h":11.55,"v":13},{"s":"m17","h":13,"v":9.5},{"s":"m17","h":13.15,"v":11},{"s":"m17","h":14.1,"v":8.7},{"s":"m17","h":14.25,"v":14},{"s":"m17","h":15.9,"v":10},{"s":"m17","h":16.05,"v":12.5},{"s":"m17","h":17.4,"v":9.3},{"s":"m17","h":17.55,"v":14},{"s":"m17","h":19,"v":10.5},{"s":"m17","h":19.15,"v":15},{"s":"m17","h":20.8,"v":11},{"s":"m17","h":20.95,"v":13},{"s":"m17","h":22.2,"v":10},{"s":"m17","h":22.35,"v":14},{"s":"m17","h":23.7,"v":10.6},
{"s":"m18","h":0,"v":0},{"s":"m18","h":0.6,"v":-1.4},{"s":"m18","h":0.75,"v":1.5},{"s":"m18","h":1.9,"v":-1.3},{"s":"m18","h":2.05,"v":3},{"s":"m18","h":3.3,"v":0},{"s":"m18","h":3.45,"v":5},{"s":"m18","h":4.8,"v":1.8},{"s":"m18","h":4.95,"v":7},{"s":"m18","h":6.4,"v":3.5},{"s":"m18","h":6.55,"v":6},{"s":"m18","h":7.6,"v":3.5},{"s":"m18","h":7.75,"v":9},{"s":"m18","h":9.4,"v":5},{"s":"m18","h":9.55,"v":8},{"s":"m18","h":10.6,"v":5.5},{"s":"m18","h":10.75,"v":10},{"s":"m18","h":12.5,"v":5.8},{"s":"m18","h":12.65,"v":8},{"s":"m18","h":13.8,"v":5.2},{"s":"m18","h":13.95,"v":11},{"s":"m18","h":15.6,"v":7},{"s":"m18","h":15.75,"v":9},{"s":"m18","h":16.9,"v":6.2},{"s":"m18","h":17.05,"v":12},{"s":"m18","h":18.8,"v":7.8},{"s":"m18","h":18.95,"v":10},{"s":"m18","h":20.4,"v":6.5},{"s":"m18","h":20.55,"v":11},{"s":"m18","h":22.1,"v":7.3},{"s":"m18","h":22.25,"v":10},{"s":"m18","h":23.7,"v":6.4},
{"s":"m19","h":0,"v":0},{"s":"m19","h":0.5,"v":-1.2},{"s":"m19","h":0.65,"v":0.5},{"s":"m19","h":1.7,"v":-2},{"s":"m19","h":1.85,"v":2},{"s":"m19","h":3.4,"v":-1.7},{"s":"m19","h":3.55,"v":1},{"s":"m19","h":4.4,"v":-1},{"s":"m19","h":4.55,"v":4},{"s":"m19","h":6.2,"v":0},{"s":"m19","h":6.35,"v":2},{"s":"m19","h":7.2,"v":0},{"s":"m19","h":7.35,"v":6},{"s":"m19","h":9.1,"v":1.8},{"s":"m19","h":9.25,"v":4},{"s":"m19","h":10.4,"v":1.2},{"s":"m19","h":10.55,"v":6},{"s":"m19","h":12.2,"v":2},{"s":"m19","h":12.35,"v":3.5},{"s":"m19","h":13.4,"v":1},{"s":"m19","h":13.55,"v":7},{"s":"m19","h":15.3,"v":2.8},{"s":"m19","h":15.45,"v":5},{"s":"m19","h":16.8,"v":1.8},{"s":"m19","h":16.95,"v":6},{"s":"m19","h":18.6,"v":2},{"s":"m19","h":18.75,"v":4.5},{"s":"m19","h":19.9,"v":1.7},{"s":"m19","h":20.05,"v":7},{"s":"m19","h":21.8,"v":2.8},{"s":"m19","h":21.95,"v":5},{"s":"m19","h":23.7,"v":0.8},
{"s":"m20","h":0,"v":0},{"s":"m20","h":0.4,"v":-1},{"s":"m20","h":0.55,"v":-0.3},{"s":"m20","h":1.5,"v":-2.6},{"s":"m20","h":1.65,"v":1},{"s":"m20","h":3,"v":-2.2},{"s":"m20","h":3.15,"v":-0.5},{"s":"m20","h":4.2,"v":-3},{"s":"m20","h":4.35,"v":1},{"s":"m20","h":5.8,"v":-2.5},{"s":"m20","h":5.95,"v":-0.5},{"s":"m20","h":7,"v":-3},{"s":"m20","h":7.15,"v":2},{"s":"m20","h":8.8,"v":-2},{"s":"m20","h":8.95,"v":0},{"s":"m20","h":10.2,"v":-3},{"s":"m20","h":10.35,"v":2},{"s":"m20","h":11.8,"v":-1.5},{"s":"m20","h":11.95,"v":0.5},{"s":"m20","h":13.1,"v":-2.3},{"s":"m20","h":13.25,"v":3},{"s":"m20","h":14.9,"v":-1},{"s":"m20","h":15.05,"v":1},{"s":"m20","h":16.3,"v":-2},{"s":"m20","h":16.45,"v":2.5},{"s":"m20","h":18.2,"v":-1.7},{"s":"m20","h":18.35,"v":0},{"s":"m20","h":19.5,"v":-2.8},{"s":"m20","h":19.65,"v":2},{"s":"m20","h":21.4,"v":-2.2},{"s":"m20","h":21.55,"v":0.5},{"s":"m20","h":23.7,"v":-4.8},
{"s":"m21","h":0,"v":0},{"s":"m21","h":0.7,"v":-1.7},{"s":"m21","h":0.85,"v":0},{"s":"m21","h":2.5,"v":-4},{"s":"m21","h":2.65,"v":-2},{"s":"m21","h":4.2,"v":-5.7},{"s":"m21","h":4.35,"v":-4},{"s":"m21","h":6,"v":-8},{"s":"m21","h":6.15,"v":-6},{"s":"m21","h":7.6,"v":-9.5},{"s":"m21","h":7.75,"v":-7},{"s":"m21","h":9.4,"v":-11},{"s":"m21","h":9.55,"v":-9},{"s":"m21","h":11,"v":-12.5},{"s":"m21","h":11.15,"v":-10},{"s":"m21","h":12.8,"v":-14},{"s":"m21","h":12.95,"v":-11},{"s":"m21","h":14.4,"v":-14.5},{"s":"m21","h":14.55,"v":-12},{"s":"m21","h":16.2,"v":-16},{"s":"m21","h":16.35,"v":-13},{"s":"m21","h":17.8,"v":-16.5},{"s":"m21","h":17.95,"v":-14},{"s":"m21","h":19.6,"v":-18},{"s":"m21","h":19.75,"v":-14},{"s":"m21","h":21.4,"v":-18},{"s":"m21","h":21.55,"v":-15},{"s":"m21","h":23.7,"v":-20.3},
{"s":"m22","h":0,"v":0},{"s":"m22","h":0.5,"v":-1.2},{"s":"m22","h":1.5,"v":-3.6},{"s":"m22","h":1.65,"v":-2},{"s":"m22","h":3.3,"v":-6},{"s":"m22","h":3.45,"v":-4},{"s":"m22","h":5,"v":-7.7},{"s":"m22","h":5.15,"v":-6},{"s":"m22","h":6.8,"v":-10},{"s":"m22","h":6.95,"v":-8},{"s":"m22","h":8.4,"v":-11.5},{"s":"m22","h":8.55,"v":-9},{"s":"m22","h":10.2,"v":-13},{"s":"m22","h":10.35,"v":-11},{"s":"m22","h":11.8,"v":-14.5},{"s":"m22","h":11.95,"v":-12},{"s":"m22","h":13.6,"v":-16},{"s":"m22","h":13.75,"v":-14},{"s":"m22","h":15.2,"v":-17.5},{"s":"m22","h":15.35,"v":-15},{"s":"m22","h":17,"v":-19},{"s":"m22","h":17.15,"v":-16},{"s":"m22","h":18.6,"v":-19.5},{"s":"m22","h":18.75,"v":-17},{"s":"m22","h":20.4,"v":-21},{"s":"m22","h":20.55,"v":-18},{"s":"m22","h":22,"v":-21.5},{"s":"m22","h":22.15,"v":-17},{"s":"m22","h":23.7,"v":-20.8},
{"s":"m23","h":0,"v":0},{"s":"m23","h":0.6,"v":-1.4},{"s":"m23","h":1.5,"v":-3.6},{"s":"m23","h":1.65,"v":-1},{"s":"m23","h":3,"v":-4.2},{"s":"m23","h":3.15,"v":0},{"s":"m23","h":4.5,"v":-3.2},{"s":"m23","h":4.65,"v":-1},{"s":"m23","h":6.3,"v":-5},{"s":"m23","h":6.45,"v":-3},{"s":"m23","h":7.2,"v":-4.8},{"s":"m23","h":7.35,"v":1},{"s":"m23","h":9,"v":-3},{"s":"m23","h":9.15,"v":-1},{"s":"m23","h":10.8,"v":-5},{"s":"m23","h":10.95,"v":-2},{"s":"m23","h":12,"v":-4.5},{"s":"m23","h":12.15,"v":0},{"s":"m23","h":13.8,"v":-4},{"s":"m23","h":13.95,"v":-2},{"s":"m23","h":15.5,"v":-5.7},{"s":"m23","h":15.65,"v":1},{"s":"m23","h":17.3,"v":-3},{"s":"m23","h":17.45,"v":-1},{"s":"m23","h":19,"v":-4.7},{"s":"m23","h":19.15,"v":-2},{"s":"m23","h":20.7,"v":-5.7},{"s":"m23","h":20.85,"v":-1},{"s":"m23","h":22.5,"v":-5},{"s":"m23","h":22.65,"v":-3},{"s":"m23","h":23.7,"v":-5.6},
{"s":"m24","h":0,"v":0},{"s":"m24","h":0.3,"v":-0.7},{"s":"m24","h":0.45,"v":1.5},{"s":"m24","h":2,"v":-2.2},{"s":"m24","h":2.15,"v":0},{"s":"m24","h":3.8,"v":-4},{"s":"m24","h":3.95,"v":-1},{"s":"m24","h":5.4,"v":-4.5},{"s":"m24","h":5.55,"v":-2},{"s":"m24","h":7.2,"v":-6},{"s":"m24","h":7.35,"v":-3},{"s":"m24","h":8.8,"v":-6.5},{"s":"m24","h":8.95,"v":-4},{"s":"m24","h":10.6,"v":-8},{"s":"m24","h":10.75,"v":-2},{"s":"m24","h":12.4,"v":-6},{"s":"m24","h":12.55,"v":-4},{"s":"m24","h":14,"v":-7.5},{"s":"m24","h":14.15,"v":-5},{"s":"m24","h":15.8,"v":-9},{"s":"m24","h":15.95,"v":-4},{"s":"m24","h":17.6,"v":-8},{"s":"m24","h":17.75,"v":-6},{"s":"m24","h":19.2,"v":-9.5},{"s":"m24","h":19.35,"v":-7},{"s":"m24","h":21,"v":-11},{"s":"m24","h":21.15,"v":-6},{"s":"m24","h":22.8,"v":-10},{"s":"m24","h":22.95,"v":-8},{"s":"m24","h":23.7,"v":-9.9},
{"s":"m25","h":0,"v":0},{"s":"m25","h":1,"v":-2.4},{"s":"m25","h":1.15,"v":-1},{"s":"m25","h":2.6,"v":-4.5},{"s":"m25","h":2.75,"v":-3},{"s":"m25","h":4.4,"v":-7},{"s":"m25","h":4.55,"v":-5},{"s":"m25","h":6,"v":-8.5},{"s":"m25","h":6.15,"v":-7},{"s":"m25","h":7.8,"v":-11},{"s":"m25","h":7.95,"v":-8},{"s":"m25","h":9.4,"v":-11.5},{"s":"m25","h":9.55,"v":-10},{"s":"m25","h":11.2,"v":-14},{"s":"m25","h":11.35,"v":-11},{"s":"m25","h":12.8,"v":-14.5},{"s":"m25","h":12.95,"v":-12},{"s":"m25","h":14.6,"v":-16},{"s":"m25","h":14.75,"v":-13},{"s":"m25","h":16.2,"v":-16.5},{"s":"m25","h":16.35,"v":-15},{"s":"m25","h":17.9,"v":-18.7},{"s":"m25","h":18.05,"v":-14},{"s":"m25","h":19.7,"v":-18},{"s":"m25","h":19.85,"v":-16},{"s":"m25","h":21.5,"v":-20},{"s":"m25","h":21.65,"v":-15},{"s":"m25","h":23.7,"v":-20},
{"s":"m26","h":0,"v":0},{"s":"m26","h":0.5,"v":-1.2},{"s":"m26","h":0.65,"v":0},{"s":"m26","h":2,"v":-3.2},{"s":"m26","h":3.5,"v":-6.8},{"s":"m26","h":3.65,"v":-5},{"s":"m26","h":5.3,"v":-9},{"s":"m26","h":5.45,"v":-7},{"s":"m26","h":7,"v":-10.7},{"s":"m26","h":7.15,"v":-9},{"s":"m26","h":8.8,"v":-13},{"s":"m26","h":8.95,"v":-11},{"s":"m26","h":10.4,"v":-14.5},{"s":"m26","h":10.55,"v":-12},{"s":"m26","h":12.2,"v":-16},{"s":"m26","h":12.35,"v":-14},{"s":"m26","h":13.8,"v":-17.5},{"s":"m26","h":13.95,"v":-15},{"s":"m26","h":15.6,"v":-19},{"s":"m26","h":15.75,"v":-17},{"s":"m26","h":17.2,"v":-20.5},{"s":"m26","h":17.35,"v":-19},{"s":"m26","h":19,"v":-23},{"s":"m26","h":19.15,"v":-20},{"s":"m26","h":20.8,"v":-24},{"s":"m26","h":20.95,"v":-21},{"s":"m26","h":22.4,"v":-24.5},{"s":"m26","h":22.55,"v":-21},{"s":"m26","h":23.7,"v":-23.9},
{"s":"m27","h":0,"v":0},{"s":"m27","h":0.4,"v":-1},{"s":"m27","h":0.55,"v":2},{"s":"m27","h":2,"v":-1.5},{"s":"m27","h":2.15,"v":1},{"s":"m27","h":3.4,"v":-2},{"s":"m27","h":3.55,"v":3},{"s":"m27","h":5,"v":-0.5},{"s":"m27","h":5.15,"v":2},{"s":"m27","h":6.6,"v":-1.5},{"s":"m27","h":6.75,"v":4},{"s":"m27","h":8.2,"v":0.5},{"s":"m27","h":8.35,"v":3},{"s":"m27","h":9.8,"v":-0.5},{"s":"m27","h":9.95,"v":5},{"s":"m27","h":11.4,"v":1.5},{"s":"m27","h":11.55,"v":3},{"s":"m27","h":13,"v":-0.5},{"s":"m27","h":13.15,"v":4},{"s":"m27","h":14.6,"v":0.5},{"s":"m27","h":14.75,"v":3},{"s":"m27","h":16.2,"v":-0.5},{"s":"m27","h":16.35,"v":4},{"s":"m27","h":17.8,"v":0.5},{"s":"m27","h":17.95,"v":2},{"s":"m27","h":19.4,"v":-1.5},{"s":"m27","h":19.55,"v":3},{"s":"m27","h":21,"v":-0.5},{"s":"m27","h":21.15,"v":2},{"s":"m27","h":22.6,"v":-1.5},{"s":"m27","h":22.75,"v":1},{"s":"m27","h":23.7,"v":-1.4},
{"s":"m28","h":0,"v":0},{"s":"m28","h":0.5,"v":-1.2},{"s":"m28","h":0.65,"v":2},{"s":"m28","h":1.4,"v":0.2},{"s":"m28","h":1.55,"v":5},{"s":"m28","h":3.2,"v":1},{"s":"m28","h":3.35,"v":4},{"s":"m28","h":4,"v":2.4},{"s":"m28","h":4.15,"v":8},{"s":"m28","h":5.8,"v":4},{"s":"m28","h":5.95,"v":6},{"s":"m28","h":6.6,"v":4.4},{"s":"m28","h":6.75,"v":10},{"s":"m28","h":8.4,"v":6},{"s":"m28","h":8.55,"v":8},{"s":"m28","h":9.2,"v":6.4},{"s":"m28","h":9.35,"v":12},{"s":"m28","h":11,"v":8},{"s":"m28","h":11.15,"v":10},{"s":"m28","h":11.8,"v":8.4},{"s":"m28","h":11.95,"v":13},{"s":"m28","h":13.6,"v":9},{"s":"m28","h":13.75,"v":11},{"s":"m28","h":14.4,"v":9.4},{"s":"m28","h":14.55,"v":14},{"s":"m28","h":16.2,"v":10},{"s":"m28","h":16.35,"v":12},{"s":"m28","h":17,"v":10.4},{"s":"m28","h":17.15,"v":15},{"s":"m28","h":18.8,"v":11},{"s":"m28","h":18.95,"v":13},{"s":"m28","h":19.6,"v":11.4},{"s":"m28","h":19.75,"v":15},{"s":"m28","h":21.4,"v":11},{"s":"m28","h":21.55,"v":13},{"s":"m28","h":22.2,"v":11.4},{"s":"m28","h":22.35,"v":13},{"s":"m28","h":23.7,"v":9.6},
{"s":"m29","h":0,"v":0},{"s":"m29","h":0.8,"v":-1.9},{"s":"m29","h":0.95,"v":1},{"s":"m29","h":2.2,"v":-2},{"s":"m29","h":2.35,"v":0},{"s":"m29","h":3.8,"v":-3.5},{"s":"m29","h":3.95,"v":1},{"s":"m29","h":5.6,"v":-3},{"s":"m29","h":5.75,"v":-1},{"s":"m29","h":7,"v":-4},{"s":"m29","h":7.15,"v":0},{"s":"m29","h":8.6,"v":-3.5},{"s":"m29","h":8.75,"v":1},{"s":"m29","h":10.4,"v":-3},{"s":"m29","h":10.55,"v":-1},{"s":"m29","h":11.8,"v":-4},{"s":"m29","h":11.95,"v":1},{"s":"m29","h":13.4,"v":-2.5},{"s":"m29","h":13.55,"v":0},{"s":"m29","h":15.2,"v":-4},{"s":"m29","h":15.35,"v":-1},{"s":"m29","h":16.6,"v":-4},{"s":"m29","h":16.75,"v":2},{"s":"m29","h":18.4,"v":-2},{"s":"m29","h":18.55,"v":-0.5},{"s":"m29","h":20,"v":-4},{"s":"m29","h":20.15,"v":1},{"s":"m29","h":21.8,"v":-3},{"s":"m29","h":21.95,"v":-1},{"s":"m29","h":23.7,"v":-5.3},
{"s":"m30","h":0,"v":0},{"s":"m30","h":0.6,"v":-1.4},{"s":"m30","h":0.75,"v":0},{"s":"m30","h":2.2,"v":-3.5},{"s":"m30","h":2.35,"v":-1},{"s":"m30","h":4,"v":-5},{"s":"m30","h":4.15,"v":-3},{"s":"m30","h":5.6,"v":-6.5},{"s":"m30","h":5.75,"v":-4},{"s":"m30","h":7.4,"v":-8},{"s":"m30","h":7.55,"v":-5},{"s":"m30","h":9,"v":-8.5},{"s":"m30","h":9.15,"v":-7},{"s":"m30","h":10.8,"v":-11},{"s":"m30","h":10.95,"v":-8},{"s":"m30","h":12.4,"v":-11.5},{"s":"m30","h":12.55,"v":-9},{"s":"m30","h":14.2,"v":-13},{"s":"m30","h":14.35,"v":-10},{"s":"m30","h":15.8,"v":-13.5},{"s":"m30","h":15.95,"v":-11},{"s":"m30","h":17.6,"v":-15},{"s":"m30","h":17.75,"v":-12},{"s":"m30","h":19.2,"v":-15.5},{"s":"m30","h":19.35,"v":-11},{"s":"m30","h":21,"v":-15},{"s":"m30","h":21.15,"v":-12},{"s":"m30","h":23.7,"v":-18.2},
{"s":"m31","h":0,"v":0},{"s":"m31","h":0.2,"v":-0.5},{"s":"m31","h":0.35,"v":3},{"s":"m31","h":1.6,"v":0},{"s":"m31","h":1.75,"v":6},{"s":"m31","h":3,"v":3},{"s":"m31","h":3.15,"v":8},{"s":"m31","h":4.6,"v":4.5},{"s":"m31","h":4.75,"v":10},{"s":"m31","h":6.2,"v":6.5},{"s":"m31","h":6.35,"v":12},{"s":"m31","h":7.9,"v":8.3},{"s":"m31","h":8.05,"v":11},{"s":"m31","h":9.3,"v":8},{"s":"m31","h":9.45,"v":13},{"s":"m31","h":11,"v":9.3},{"s":"m31","h":11.15,"v":12},{"s":"m31","h":12.4,"v":9},{"s":"m31","h":12.55,"v":14},{"s":"m31","h":14.1,"v":10.3},{"s":"m31","h":14.25,"v":12.5},{"s":"m31","h":15.5,"v":9.5},{"s":"m31","h":15.65,"v":14},{"s":"m31","h":17.2,"v":10.3},{"s":"m31","h":17.35,"v":15},{"s":"m31","h":18.8,"v":11.5},{"s":"m31","h":18.95,"v":16},{"s":"m31","h":20.5,"v":12.3},{"s":"m31","h":20.65,"v":15},{"s":"m31","h":22.2,"v":11.3},{"s":"m31","h":22.35,"v":14.5},{"s":"m31","h":23.7,"v":11.1},
{"s":"m32","h":0,"v":0},{"s":"m32","h":1.2,"v":-2.9},{"s":"m32","h":1.35,"v":-1},{"s":"m32","h":3,"v":-5},{"s":"m32","h":3.15,"v":1},{"s":"m32","h":4.6,"v":-2.5},{"s":"m32","h":4.75,"v":-1},{"s":"m32","h":6.2,"v":-4.5},{"s":"m32","h":6.35,"v":3},{"s":"m32","h":8,"v":-1},{"s":"m32","h":8.15,"v":1},{"s":"m32","h":9.6,"v":-2.5},{"s":"m32","h":9.75,"v":5},{"s":"m32","h":11.4,"v":1},{"s":"m32","h":11.55,"v":3},{"s":"m32","h":13,"v":-0.5},{"s":"m32","h":13.15,"v":6},{"s":"m32","h":14.8,"v":2},{"s":"m32","h":14.95,"v":4},{"s":"m32","h":16.4,"v":0.5},{"s":"m32","h":16.55,"v":7},{"s":"m32","h":18.2,"v":3},{"s":"m32","h":18.35,"v":5},{"s":"m32","h":19.8,"v":1.5},{"s":"m32","h":19.95,"v":6},{"s":"m32","h":21.6,"v":2},{"s":"m32","h":21.75,"v":4},{"s":"m32","h":23.7,"v":-0.8},
{"s":"m33","h":0,"v":0},{"s":"m33","h":0.5,"v":-1.2},{"s":"m33","h":0.65,"v":1},{"s":"m33","h":2.3,"v":-3},{"s":"m33","h":2.45,"v":-1},{"s":"m33","h":3.9,"v":-4.5},{"s":"m33","h":4.05,"v":-2},{"s":"m33","h":5.7,"v":-6},{"s":"m33","h":5.85,"v":-3},{"s":"m33","h":7.3,"v":-6.5},{"s":"m33","h":7.45,"v":-2},{"s":"m33","h":9.1,"v":-6},{"s":"m33","h":9.25,"v":-4},{"s":"m33","h":10.7,"v":-7.5},{"s":"m33","h":10.85,"v":-5},{"s":"m33","h":12.5,"v":-9},{"s":"m33","h":12.65,"v":-6},{"s":"m33","h":14.1,"v":-9.5},{"s":"m33","h":14.25,"v":-6},{"s":"m33","h":15.9,"v":-10},{"s":"m33","h":16.05,"v":-7},{"s":"m33","h":17.5,"v":-10.5},{"s":"m33","h":17.65,"v":-8},{"s":"m33","h":19.3,"v":-12},{"s":"m33","h":19.45,"v":-9},{"s":"m33","h":20.9,"v":-12.5},{"s":"m33","h":21.05,"v":-8},{"s":"m33","h":22.7,"v":-12},{"s":"m33","h":22.85,"v":-9},{"s":"m33","h":23.7,"v":-11.2},
{"s":"m34","h":0,"v":0},{"s":"m34","h":0.6,"v":-1.4},{"s":"m34","h":2,"v":-4.8},{"s":"m34","h":2.15,"v":-3},{"s":"m34","h":3.8,"v":-7},{"s":"m34","h":3.95,"v":-5},{"s":"m34","h":5.4,"v":-8.5},{"s":"m34","h":5.55,"v":-6},{"s":"m34","h":7.2,"v":-10},{"s":"m34","h":7.35,"v":-8},{"s":"m34","h":8.8,"v":-11.5},{"s":"m34","h":8.95,"v":-10},{"s":"m34","h":10.6,"v":-14},{"s":"m34","h":10.75,"v":-11},{"s":"m34","h":12.2,"v":-14.5},{"s":"m34","h":12.35,"v":-13},{"s":"m34","h":14,"v":-17},{"s":"m34","h":14.15,"v":-14},{"s":"m34","h":15.6,"v":-17.5},{"s":"m34","h":15.75,"v":-16},{"s":"m34","h":17.4,"v":-20},{"s":"m34","h":17.55,"v":-17},{"s":"m34","h":19,"v":-20.5},{"s":"m34","h":19.15,"v":-18},{"s":"m34","h":20.8,"v":-22},{"s":"m34","h":20.95,"v":-18},{"s":"m34","h":22.6,"v":-22},{"s":"m34","h":22.75,"v":-19},{"s":"m34","h":23.7,"v":-21.4},
{"s":"m35","h":0,"v":0},{"s":"m35","h":0.7,"v":-1.7},{"s":"m35","h":0.85,"v":1},{"s":"m35","h":2.3,"v":-2.5},{"s":"m35","h":2.45,"v":2},{"s":"m35","h":3.9,"v":-1.5},{"s":"m35","h":4.05,"v":3},{"s":"m35","h":5.7,"v":-1},{"s":"m35","h":5.85,"v":4},{"s":"m35","h":7.3,"v":0.5},{"s":"m35","h":7.45,"v":6},{"s":"m35","h":9.1,"v":2},{"s":"m35","h":9.25,"v":4},{"s":"m35","h":10.7,"v":0.5},{"s":"m35","h":10.85,"v":7},{"s":"m35","h":12.5,"v":3},{"s":"m35","h":12.65,"v":5},{"s":"m35","h":14.1,"v":1.5},{"s":"m35","h":14.25,"v":8},{"s":"m35","h":15.9,"v":4},{"s":"m35","h":16.05,"v":6},{"s":"m35","h":17.5,"v":2.5},{"s":"m35","h":17.65,"v":9},{"s":"m35","h":19.3,"v":5},{"s":"m35","h":19.45,"v":7},{"s":"m35","h":20.9,"v":3.5},{"s":"m35","h":21.05,"v":8},{"s":"m35","h":22.7,"v":4},{"s":"m35","h":22.85,"v":7},{"s":"m35","h":23.7,"v":4.8},
{"s":"m36","h":0,"v":0},{"s":"m36","h":0.4,"v":1},{"s":"m36","h":0.9,"v":-0.2},{"s":"m36","h":1.05,"v":4},{"s":"m36","h":2.5,"v":0.5},{"s":"m36","h":2.65,"v":7},{"s":"m36","h":4.2,"v":3.3},{"s":"m36","h":4.35,"v":9},{"s":"m36","h":5.9,"v":5.3},{"s":"m36","h":6.05,"v":10},{"s":"m36","h":7.6,"v":6.3},{"s":"m36","h":7.75,"v":12},{"s":"m36","h":9.3,"v":8.3},{"s":"m36","h":9.45,"v":11},{"s":"m36","h":11,"v":7.3},{"s":"m36","h":11.15,"v":13},{"s":"m36","h":12.7,"v":9.3},{"s":"m36","h":12.85,"v":12},{"s":"m36","h":14.4,"v":8.3},{"s":"m36","h":14.55,"v":14},{"s":"m36","h":16.1,"v":10.3},{"s":"m36","h":16.25,"v":13},{"s":"m36","h":17.8,"v":9.3},{"s":"m36","h":17.95,"v":15},{"s":"m36","h":19.5,"v":11.3},{"s":"m36","h":19.65,"v":14},{"s":"m36","h":21.2,"v":10.3},{"s":"m36","h":21.35,"v":15},{"s":"m36","h":22.9,"v":11.3},{"s":"m36","h":23.05,"v":13},{"s":"m36","h":23.7,"v":11.3},
{"s":"m37","h":0,"v":0},{"s":"m37","h":0.5,"v":-1.2},{"s":"m37","h":0.65,"v":3},{"s":"m37","h":2,"v":-0.2},{"s":"m37","h":2.15,"v":6},{"s":"m37","h":3.4,"v":3},{"s":"m37","h":3.55,"v":9},{"s":"m37","h":5,"v":5.5},{"s":"m37","h":5.15,"v":11},{"s":"m37","h":6.6,"v":7.5},{"s":"m37","h":6.75,"v":13},{"s":"m37","h":8.2,"v":9.5},{"s":"m37","h":8.35,"v":12},{"s":"m37","h":9.8,"v":8.5},{"s":"m37","h":9.95,"v":13},{"s":"m37","h":11.4,"v":9.5},{"s":"m37","h":11.55,"v":11},{"s":"m37","h":13,"v":7.5},{"s":"m37","h":13.15,"v":12},{"s":"m37","h":14.6,"v":8.5},{"s":"m37","h":14.75,"v":10},{"s":"m37","h":16.2,"v":6.5},{"s":"m37","h":16.35,"v":11},{"s":"m37","h":17.8,"v":7.5},{"s":"m37","h":17.95,"v":10},{"s":"m37","h":19.4,"v":6.5},{"s":"m37","h":19.55,"v":11},{"s":"m37","h":21,"v":7.5},{"s":"m37","h":21.15,"v":9},{"s":"m37","h":22.6,"v":5.5},{"s":"m37","h":22.75,"v":9},{"s":"m37","h":23.7,"v":6.6},
{"s":"m38","h":0,"v":0},{"s":"m38","h":1,"v":-2.4},{"s":"m38","h":1.15,"v":1},{"s":"m38","h":2.6,"v":-2.5},{"s":"m38","h":2.75,"v":3},{"s":"m38","h":4.2,"v":-0.5},{"s":"m38","h":4.35,"v":2},{"s":"m38","h":5.8,"v":-1.5},{"s":"m38","h":5.95,"v":5},{"s":"m38","h":7.4,"v":1.5},{"s":"m38","h":7.55,"v":3},{"s":"m38","h":9,"v":-0.5},{"s":"m38","h":9.15,"v":8},{"s":"m38","h":10.6,"v":4.5},{"s":"m38","h":10.75,"v":6},{"s":"m38","h":12.2,"v":2.5},{"s":"m38","h":12.35,"v":9},{"s":"m38","h":13.8,"v":5.5},{"s":"m38","h":13.95,"v":7},{"s":"m38","h":15.4,"v":3.5},{"s":"m38","h":15.55,"v":10},{"s":"m38","h":17,"v":6.5},{"s":"m38","h":17.15,"v":8},{"s":"m38","h":18.6,"v":4.5},{"s":"m38","h":18.75,"v":11},{"s":"m38","h":20.2,"v":7.5},{"s":"m38","h":20.35,"v":9},{"s":"m38","h":21.8,"v":5.5},{"s":"m38","h":21.95,"v":8},{"s":"m38","h":23.7,"v":3.7},
{"s":"n1","h":0,"v":0},{"s":"n1","h":1,"v":-2.4},{"s":"n1","h":1.1,"v":0},{"s":"n1","h":2.2,"v":-2.6},{"s":"n1","h":2.3,"v":-1},{"s":"n1","h":3.4,"v":-3.6},{"s":"n1","h":3.5,"v":-1.5},{"s":"n1","h":4.6,"v":-4.1},{"s":"n1","h":4.7,"v":-2},{"s":"n1","h":5.8,"v":-4.6},{"s":"n1","h":5.9,"v":-3},{"s":"n1","h":7,"v":-5.6},{"s":"n1","h":7.1,"v":-2.5},{"s":"n1","h":8.2,"v":-5.1},{"s":"n1","h":8.3,"v":-3.5},{"s":"n1","h":9.4,"v":-6.1},{"s":"n1","h":9.5,"v":-4},{"s":"n1","h":10.6,"v":-6.6},{"s":"n1","h":10.7,"v":-4.5},{"s":"n1","h":11.8,"v":-7.1},{"s":"n1","h":11.9,"v":-5},{"s":"n1","h":13,"v":-7.6},{"s":"n1","h":13.1,"v":-5},{"s":"n1","h":14.2,"v":-7.6},{"s":"n1","h":14.3,"v":-6},{"s":"n1","h":15.4,"v":-8.6},{"s":"n1","h":15.5,"v":-6.5},{"s":"n1","h":16.6,"v":-9.1},{"s":"n1","h":16.7,"v":-7},{"s":"n1","h":17.8,"v":-9.6},{"s":"n1","h":17.9,"v":-7},{"s":"n1","h":19,"v":-9.6},{"s":"n1","h":19.1,"v":-8},{"s":"n1","h":20.2,"v":-10.6},{"s":"n1","h":20.3,"v":-8},{"s":"n1","h":21.4,"v":-10.6},{"s":"n1","h":21.5,"v":-9},{"s":"n1","h":22.6,"v":-11.6},{"s":"n1","h":22.7,"v":-9},{"s":"n1","h":23.7,"v":-11.4},
{"s":"n2","h":0,"v":0},{"s":"n2","h":0.8,"v":-1.9},{"s":"n2","h":0.9,"v":-1},{"s":"n2","h":2,"v":-3.6},{"s":"n2","h":2.1,"v":-2.5},{"s":"n2","h":3.2,"v":-5.1},{"s":"n2","h":3.3,"v":-3.5},{"s":"n2","h":4.4,"v":-6.1},{"s":"n2","h":4.5,"v":-5},{"s":"n2","h":5.6,"v":-7.6},{"s":"n2","h":5.7,"v":-6},{"s":"n2","h":6.8,"v":-8.6},{"s":"n2","h":6.9,"v":-7.5},{"s":"n2","h":8,"v":-10.1},{"s":"n2","h":8.1,"v":-8.5},{"s":"n2","h":9.2,"v":-11.1},{"s":"n2","h":9.3,"v":-10},{"s":"n2","h":10.4,"v":-12.6},{"s":"n2","h":10.5,"v":-11},{"s":"n2","h":11.6,"v":-13.6},{"s":"n2","h":11.7,"v":-12},{"s":"n2","h":12.8,"v":-14.6},{"s":"n2","h":12.9,"v":-13},{"s":"n2","h":14,"v":-15.6},{"s":"n2","h":14.1,"v":-14},{"s":"n2","h":15.2,"v":-16.6},{"s":"n2","h":15.3,"v":-15},{"s":"n2","h":16.4,"v":-17.6},{"s":"n2","h":16.5,"v":-16},{"s":"n2","h":17.6,"v":-18.6},{"s":"n2","h":17.7,"v":-17},{"s":"n2","h":18.8,"v":-19.6},{"s":"n2","h":18.9,"v":-17.5},{"s":"n2","h":20,"v":-20.1},{"s":"n2","h":20.1,"v":-18},{"s":"n2","h":21.2,"v":-20.6},{"s":"n2","h":21.3,"v":-17},{"s":"n2","h":22.4,"v":-19.6},{"s":"n2","h":22.5,"v":-17.5},{"s":"n2","h":23.7,"v":-20.4},
{"s":"n3","h":0,"v":0},{"s":"n3","h":0.6,"v":-1.4},{"s":"n3","h":0.7,"v":-0.5},{"s":"n3","h":1.8,"v":-3.1},{"s":"n3","h":1.9,"v":-1.5},{"s":"n3","h":3,"v":-4.1},{"s":"n3","h":3.1,"v":-2},{"s":"n3","h":4.2,"v":-4.6},{"s":"n3","h":4.3,"v":-3.5},{"s":"n3","h":5.4,"v":-6.1},{"s":"n3","h":5.5,"v":-4},{"s":"n3","h":6.6,"v":-6.6},{"s":"n3","h":6.7,"v":-5.5},{"s":"n3","h":7.8,"v":-8.1},{"s":"n3","h":7.9,"v":-6},{"s":"n3","h":9,"v":-8.6},{"s":"n3","h":9.1,"v":-7},{"s":"n3","h":10.2,"v":-9.6},{"s":"n3","h":10.3,"v":-7.5},{"s":"n3","h":11.4,"v":-10.1},{"s":"n3","h":11.5,"v":-8},{"s":"n3","h":12.6,"v":-10.6},{"s":"n3","h":12.7,"v":-9.5},{"s":"n3","h":13.8,"v":-12.1},{"s":"n3","h":13.9,"v":-10},{"s":"n3","h":15,"v":-12.6},{"s":"n3","h":15.1,"v":-10.5},{"s":"n3","h":16.2,"v":-13.1},{"s":"n3","h":16.3,"v":-11},{"s":"n3","h":17.4,"v":-13.6},{"s":"n3","h":17.5,"v":-12},{"s":"n3","h":18.6,"v":-14.6},{"s":"n3","h":18.7,"v":-12},{"s":"n3","h":19.8,"v":-14.6},{"s":"n3","h":19.9,"v":-13},{"s":"n3","h":21,"v":-15.6},{"s":"n3","h":21.1,"v":-13},{"s":"n3","h":22.2,"v":-15.6},{"s":"n3","h":22.3,"v":-14},{"s":"n3","h":23.7,"v":-17.4},
{"s":"n4","h":0,"v":0},{"s":"n4","h":0.9,"v":-2.2},{"s":"n4","h":1,"v":0},{"s":"n4","h":2.1,"v":-2.6},{"s":"n4","h":2.2,"v":-1.5},{"s":"n4","h":3.3,"v":-4.1},{"s":"n4","h":3.4,"v":-2},{"s":"n4","h":4.5,"v":-4.6},{"s":"n4","h":4.6,"v":-3},{"s":"n4","h":5.7,"v":-5.6},{"s":"n4","h":5.8,"v":-4.5},{"s":"n4","h":6.9,"v":-7.1},{"s":"n4","h":7,"v":-5},{"s":"n4","h":8.1,"v":-7.6},{"s":"n4","h":8.2,"v":-6.5},{"s":"n4","h":9.3,"v":-9.1},{"s":"n4","h":9.4,"v":-7},{"s":"n4","h":10.5,"v":-9.6},{"s":"n4","h":10.6,"v":-8},{"s":"n4","h":11.7,"v":-10.6},{"s":"n4","h":11.8,"v":-9},{"s":"n4","h":12.9,"v":-11.6},{"s":"n4","h":13,"v":-9.5},{"s":"n4","h":14.1,"v":-12.1},{"s":"n4","h":14.2,"v":-11},{"s":"n4","h":15.3,"v":-13.6},{"s":"n4","h":15.4,"v":-11.5},{"s":"n4","h":16.5,"v":-14.1},{"s":"n4","h":16.6,"v":-12.5},{"s":"n4","h":17.7,"v":-15.1},{"s":"n4","h":17.8,"v":-13},{"s":"n4","h":18.9,"v":-15.6},{"s":"n4","h":19,"v":-14},{"s":"n4","h":20.1,"v":-16.6},{"s":"n4","h":20.2,"v":-10},{"s":"n4","h":21.3,"v":-12.6},{"s":"n4","h":21.4,"v":-10.5},{"s":"n4","h":22.5,"v":-13.1},{"s":"n4","h":22.6,"v":-11},{"s":"n4","h":23.7,"v":-13.6},
{"s":"n5","h":0,"v":0},{"s":"n5","h":0.5,"v":-1.2},{"s":"n5","h":0.6,"v":0},{"s":"n5","h":1.6,"v":-2.4},{"s":"n5","h":1.7,"v":-1},{"s":"n5","h":2.8,"v":-3.6},{"s":"n5","h":2.9,"v":-1},{"s":"n5","h":4,"v":-3.6},{"s":"n5","h":4.1,"v":-2.5},{"s":"n5","h":5.2,"v":-5.1},{"s":"n5","h":5.3,"v":-2.5},{"s":"n5","h":6.4,"v":-5.1},{"s":"n5","h":6.5,"v":-3.5},{"s":"n5","h":7.6,"v":-6.1},{"s":"n5","h":7.7,"v":-3},{"s":"n5","h":8.8,"v":-5.6},{"s":"n5","h":8.9,"v":-4},{"s":"n5","h":10,"v":-6.6},{"s":"n5","h":10.1,"v":-3.5},{"s":"n5","h":11.2,"v":-6.1},{"s":"n5","h":11.3,"v":-4.5},{"s":"n5","h":12.4,"v":-7.1},{"s":"n5","h":12.5,"v":-4},{"s":"n5","h":13.6,"v":-6.6},{"s":"n5","h":13.7,"v":-5},{"s":"n5","h":14.8,"v":-7.6},{"s":"n5","h":14.9,"v":-4.5},{"s":"n5","h":16,"v":-7.1},{"s":"n5","h":16.1,"v":-5},{"s":"n5","h":17.2,"v":-7.6},{"s":"n5","h":17.3,"v":-4.5},{"s":"n5","h":18.4,"v":-7.1},{"s":"n5","h":18.5,"v":-5.5},{"s":"n5","h":19.6,"v":-8.1},{"s":"n5","h":19.7,"v":-5},{"s":"n5","h":20.8,"v":-7.6},{"s":"n5","h":20.9,"v":-5.5},{"s":"n5","h":22,"v":-8.1},{"s":"n5","h":22.1,"v":-5},{"s":"n5","h":23.7,"v":-8.8},
{"s":"n6","h":0,"v":0},{"s":"n6","h":1,"v":-2.4},{"s":"n6","h":1.1,"v":-1},{"s":"n6","h":2.2,"v":-3.6},{"s":"n6","h":2.3,"v":-2.5},{"s":"n6","h":3.4,"v":-5.1},{"s":"n6","h":3.5,"v":-4},{"s":"n6","h":4.6,"v":-6.6},{"s":"n6","h":4.7,"v":-6},{"s":"n6","h":5.5,"v":-8.5},{"s":"n6","h":6,"v":-9},{"s":"n6","h":7,"v":-10.5},{"s":"n6","h":7.4,"v":-11.7},{"s":"n6","h":7.5,"v":-6},{"s":"n6","h":8.6,"v":-8.6},{"s":"n6","h":8.7,"v":-6.5},{"s":"n6","h":9.8,"v":-9.1},{"s":"n6","h":9.9,"v":-6},{"s":"n6","h":11,"v":-8.6},{"s":"n6","h":11.1,"v":-7},{"s":"n6","h":12.2,"v":-9.6},{"s":"n6","h":12.3,"v":-7.5},{"s":"n6","h":13.4,"v":-10.1},{"s":"n6","h":13.5,"v":-8},{"s":"n6","h":14.6,"v":-10.6},{"s":"n6","h":14.7,"v":-8},{"s":"n6","h":15.8,"v":-10.6},{"s":"n6","h":15.9,"v":-9},{"s":"n6","h":17,"v":-11.6},{"s":"n6","h":17.1,"v":-8.5},{"s":"n6","h":18.2,"v":-11.1},{"s":"n6","h":18.3,"v":-9},{"s":"n6","h":19.4,"v":-11.6},{"s":"n6","h":19.5,"v":-9.5},{"s":"n6","h":20.6,"v":-12.1},{"s":"n6","h":20.7,"v":-10},{"s":"n6","h":21.8,"v":-12.6},{"s":"n6","h":21.9,"v":-10},{"s":"n6","h":23,"v":-12.6},{"s":"n6","h":23.1,"v":-11},{"s":"n6","h":23.7,"v":-12.4},
{"s":"n7","h":0,"v":0},{"s":"n7","h":0.7,"v":-1.7},{"s":"n7","h":0.8,"v":0.5},{"s":"n7","h":1.9,"v":-2.1},{"s":"n7","h":2,"v":-0.5},{"s":"n7","h":3.1,"v":-3.1},{"s":"n7","h":3.2,"v":0},{"s":"n7","h":4.3,"v":-2.6},{"s":"n7","h":4.4,"v":-1},{"s":"n7","h":5.5,"v":-3.6},{"s":"n7","h":5.6,"v":-0.5},{"s":"n7","h":6.7,"v":-3.1},{"s":"n7","h":6.8,"v":-1.5},{"s":"n7","h":7.9,"v":-4.1},{"s":"n7","h":8,"v":-1},{"s":"n7","h":9.1,"v":-3.6},{"s":"n7","h":9.2,"v":-2},{"s":"n7","h":10.3,"v":-4.6},{"s":"n7","h":10.4,"v":-1.5},{"s":"n7","h":11.5,"v":-4.1},{"s":"n7","h":11.6,"v":-2.5},{"s":"n7","h":12.7,"v":-5.1},{"s":"n7","h":12.8,"v":-2},{"s":"n7","h":13.9,"v":-4.6},{"s":"n7","h":14,"v":-2.5},{"s":"n7","h":15.1,"v":-5.1},{"s":"n7","h":15.2,"v":-2},{"s":"n7","h":16.3,"v":-4.6},{"s":"n7","h":16.4,"v":-3},{"s":"n7","h":17.5,"v":-5.6},{"s":"n7","h":17.6,"v":-2.5},{"s":"n7","h":18.7,"v":-5.1},{"s":"n7","h":18.8,"v":-3},{"s":"n7","h":19.9,"v":-5.6},{"s":"n7","h":20,"v":-2},{"s":"n7","h":21.1,"v":-4.6},{"s":"n7","h":21.2,"v":-3},{"s":"n7","h":22.3,"v":-5.6},{"s":"n7","h":22.4,"v":-2.5},{"s":"n7","h":23.7,"v":-5.6},
{"s":"n8","h":0,"v":0},{"s":"n8","h":0.8,"v":-1.9},{"s":"n8","h":0.9,"v":-0.5},{"s":"n8","h":2,"v":-3.1},{"s":"n8","h":2.1,"v":-1.5},{"s":"n8","h":3.2,"v":-4.1},{"s":"n8","h":3.3,"v":-2.5},{"s":"n8","h":4.4,"v":-5.1},{"s":"n8","h":4.5,"v":-3},{"s":"n8","h":5.6,"v":-5.6},{"s":"n8","h":5.7,"v":-4.5},{"s":"n8","h":6.8,"v":-7.1},{"s":"n8","h":6.9,"v":-5},{"s":"n8","h":8,"v":-7.6},{"s":"n8","h":8.1,"v":-6},{"s":"n8","h":9.2,"v":-8.6},{"s":"n8","h":9.3,"v":-7},{"s":"n8","h":10.4,"v":-9.6},{"s":"n8","h":10.5,"v":-7.5},{"s":"n8","h":11.6,"v":-10.1},{"s":"n8","h":11.7,"v":-8.5},{"s":"n8","h":12.8,"v":-11.1},{"s":"n8","h":12.9,"v":-9},{"s":"n8","h":14,"v":-11.6},{"s":"n8","h":14.1,"v":-10},{"s":"n8","h":15.2,"v":-12.6},{"s":"n8","h":15.3,"v":-10.5},{"s":"n8","h":16.4,"v":-13.1},{"s":"n8","h":16.5,"v":-11},{"s":"n8","h":17.6,"v":-13.6},{"s":"n8","h":17.7,"v":-11.5},{"s":"n8","h":18.8,"v":-14.1},{"s":"n8","h":18.9,"v":-12},{"s":"n8","h":20,"v":-14.6},{"s":"n8","h":20.1,"v":-12.5},{"s":"n8","h":21.2,"v":-15.1},{"s":"n8","h":21.3,"v":-11},{"s":"n8","h":22.4,"v":-13.6},{"s":"n8","h":22.5,"v":-11.5},{"s":"n8","h":23.7,"v":-14.4},
{"s":"n9","h":0,"v":0},{"s":"n9","h":0.6,"v":-1.4},{"s":"n9","h":0.7,"v":1},{"s":"n9","h":1.8,"v":-1.6},{"s":"n9","h":1.9,"v":0.5},{"s":"n9","h":3,"v":-2.1},{"s":"n9","h":3.1,"v":1.5},{"s":"n9","h":4.2,"v":-1.1},{"s":"n9","h":4.3,"v":1},{"s":"n9","h":5.4,"v":-1.6},{"s":"n9","h":5.5,"v":2},{"s":"n9","h":6.6,"v":-0.6},{"s":"n9","h":6.7,"v":1},{"s":"n9","h":7.8,"v":-1.6},{"s":"n9","h":7.9,"v":2.5},{"s":"n9","h":9,"v":-0.1},{"s":"n9","h":9.1,"v":1.5},{"s":"n9","h":10.2,"v":-1.1},{"s":"n9","h":10.3,"v":3},{"s":"n9","h":11.4,"v":0.4},{"s":"n9","h":11.5,"v":2},{"s":"n9","h":12.6,"v":-0.6},{"s":"n9","h":12.7,"v":3.5},{"s":"n9","h":13.8,"v":0.9},{"s":"n9","h":13.9,"v":2},{"s":"n9","h":15,"v":-0.6},{"s":"n9","h":15.1,"v":4},{"s":"n9","h":16.2,"v":1.4},{"s":"n9","h":16.3,"v":3},{"s":"n9","h":17.4,"v":0.4},{"s":"n9","h":17.5,"v":4.5},{"s":"n9","h":18.6,"v":1.9},{"s":"n9","h":18.7,"v":3},{"s":"n9","h":19.8,"v":0.4},{"s":"n9","h":19.9,"v":5},{"s":"n9","h":21,"v":2.4},{"s":"n9","h":21.1,"v":4},{"s":"n9","h":22.2,"v":1.4},{"s":"n9","h":22.3,"v":5},{"s":"n9","h":23.7,"v":1.6},
{"s":"n10","h":0,"v":0},{"s":"n10","h":1.2,"v":-2.9},{"s":"n10","h":1.3,"v":-2},{"s":"n10","h":2.4,"v":-4.6},{"s":"n10","h":2.5,"v":-3.5},{"s":"n10","h":3.6,"v":-6.1},{"s":"n10","h":3.7,"v":-5},{"s":"n10","h":4.8,"v":-7.6},{"s":"n10","h":4.9,"v":-6.5},{"s":"n10","h":6,"v":-9.1},{"s":"n10","h":6.1,"v":-8},{"s":"n10","h":7.2,"v":-10.6},{"s":"n10","h":7.3,"v":-9.5},{"s":"n10","h":8.4,"v":-12.1},{"s":"n10","h":8.5,"v":-10.5},{"s":"n10","h":9.6,"v":-13.1},{"s":"n10","h":9.7,"v":-12},{"s":"n10","h":10.8,"v":-14.6},{"s":"n10","h":10.9,"v":-13},{"s":"n10","h":12,"v":-15.6},{"s":"n10","h":12.1,"v":-14},{"s":"n10","h":13.2,"v":-16.6},{"s":"n10","h":13.3,"v":-15},{"s":"n10","h":14.4,"v":-17.6},{"s":"n10","h":14.5,"v":-16},{"s":"n10","h":15.6,"v":-18.6},{"s":"n10","h":15.7,"v":-16.5},{"s":"n10","h":16.8,"v":-19.1},{"s":"n10","h":16.9,"v":-17},{"s":"n10","h":18,"v":-19.6},{"s":"n10","h":18.1,"v":-17.5},{"s":"n10","h":19.2,"v":-20.1},{"s":"n10","h":19.3,"v":-18},{"s":"n10","h":20.4,"v":-20.6},{"s":"n10","h":20.5,"v":-18},{"s":"n10","h":21.6,"v":-20.6},{"s":"n10","h":21.7,"v":-19},{"s":"n10","h":23.7,"v":-23.8},
{"s":"n11","h":0,"v":0},{"s":"n11","h":0.5,"v":-1.2},{"s":"n11","h":0.6,"v":-0.5},{"s":"n11","h":1.7,"v":-3.1},{"s":"n11","h":1.8,"v":-2},{"s":"n11","h":2.9,"v":-4.6},{"s":"n11","h":3,"v":-3},{"s":"n11","h":4.1,"v":-5.6},{"s":"n11","h":4.2,"v":-4.5},{"s":"n11","h":5.3,"v":-7.1},{"s":"n11","h":5.4,"v":-5.5},{"s":"n11","h":6.5,"v":-8.1},{"s":"n11","h":6.6,"v":-6.5},{"s":"n11","h":7.7,"v":-9.1},{"s":"n11","h":7.8,"v":-7.5},{"s":"n11","h":8.9,"v":-10.1},{"s":"n11","h":9,"v":-8.5},{"s":"n11","h":10.1,"v":-11.1},{"s":"n11","h":10.2,"v":-9},{"s":"n11","h":11.3,"v":-11.6},{"s":"n11","h":11.4,"v":-10},{"s":"n11","h":12.5,"v":-12.6},{"s":"n11","h":12.6,"v":-10.5},{"s":"n11","h":13.7,"v":-13.1},{"s":"n11","h":13.8,"v":-11},{"s":"n11","h":14.9,"v":-13.6},{"s":"n11","h":15,"v":-12},{"s":"n11","h":16.1,"v":-14.6},{"s":"n11","h":16.2,"v":-12.5},{"s":"n11","h":17.3,"v":-15.1},{"s":"n11","h":17.4,"v":-13.5},{"s":"n11","h":18.5,"v":-16.1},{"s":"n11","h":18.6,"v":-14},{"s":"n11","h":19.7,"v":-16.6},{"s":"n11","h":19.8,"v":-14.5},{"s":"n11","h":20.9,"v":-17.1},{"s":"n11","h":21,"v":-15},{"s":"n11","h":22.1,"v":-17.6},{"s":"n11","h":22.2,"v":-15.5},{"s":"n11","h":23.7,"v":-19.1},
{"s":"n12","h":0,"v":0},{"s":"n12","h":0.4,"v":-1},{"s":"n12","h":0.5,"v":1.5},{"s":"n12","h":1.6,"v":-1.1},{"s":"n12","h":1.7,"v":1},{"s":"n12","h":2.8,"v":-1.6},{"s":"n12","h":2.9,"v":2.5},{"s":"n12","h":4,"v":-0.1},{"s":"n12","h":4.1,"v":1.5},{"s":"n12","h":5.2,"v":-1.1},{"s":"n12","h":5.3,"v":3},{"s":"n12","h":6.4,"v":0.4},{"s":"n12","h":6.5,"v":2},{"s":"n12","h":7.6,"v":-0.6},{"s":"n12","h":7.7,"v":4},{"s":"n12","h":8.8,"v":1.4},{"s":"n12","h":8.9,"v":3},{"s":"n12","h":10,"v":0.4},{"s":"n12","h":10.1,"v":5},{"s":"n12","h":11.2,"v":2.4},{"s":"n12","h":11.3,"v":4},{"s":"n12","h":12.4,"v":1.4},{"s":"n12","h":12.5,"v":5.5},{"s":"n12","h":13.6,"v":2.9},{"s":"n12","h":13.7,"v":4.5},{"s":"n12","h":14.8,"v":1.9},{"s":"n12","h":14.9,"v":6},{"s":"n12","h":16,"v":3.4},{"s":"n12","h":16.1,"v":5},{"s":"n12","h":17.2,"v":2.4},{"s":"n12","h":17.3,"v":6.5},{"s":"n12","h":18.4,"v":3.9},{"s":"n12","h":18.5,"v":5},{"s":"n12","h":19.6,"v":2.4},{"s":"n12","h":19.7,"v":7},{"s":"n12","h":20.8,"v":4.4},{"s":"n12","h":20.9,"v":6},{"s":"n12","h":22,"v":3.4},{"s":"n12","h":22.1,"v":7},{"s":"n12","h":23.7,"v":3.2},
{"s":"z","h":0,"v":0},{"s":"z","h":23.7,"v":0}
]},
"layer":[
{"transform":[{"filter":"datum.s != 'z'"}],
"mark":{"type":"line","strokeWidth":1,"clip":true},
"encoding":{
"x":{"field":"h","type":"quantitative","scale":{"domain":[0,23.7],"nice":false,"zero":false},"axis":{"orient":"bottom","values":[0,1,2,3,4,5,6,7,8,9,10,11,12,13,14,15,16,17,18,19,20,21,22,23],"title":"Hour of Day","labelPadding":10,"titlePadding":6,"labelFlush":false}},
"y":{"field":"v","type":"quantitative","scale":{"domain":[-40,50],"nice":false,"zero":false},"axis":{"orient":"left","values":[-40,-30,-20,-10,0,10,20,30,40,50],"title":"Cumulative (Z*Z)-1","labelPadding":14,"titlePadding":5}},
"color":{"field":"s","type":"nominal","legend":null,"scale":{
"domain":["a","b","c","l1","l2","l3","d","e","f","g","hh","m1","m2","m3","m4","m5","m6","m7","m8","m9","m10","m11","m12","m13","m14","m15","m16","m17","m18","m19","m20","m21","m22","m23","m24","m25","m26","m27","m28","m29","m30","m31","m32","m33","m34","m35","m36","m37","m38","n1","n2","n3","n4","n5","n6","n7","n8","n9","n10","n11","n12"],
"range":["#5555ff","#ff0000","#ffff00","#00aa00","#000000","#0000ff","#aa0000","#aa0000","#00ffff","#ff55ff","#5555ff","#ff0000","#00aa00","#0000ff","#ff55ff","#00ffff","#ffff00","#ff0000","#00aa00","#0000ff","#5555ff","#ff55ff","#00ffff","#ffff00","#aa0000","#000000","#00aa00","#ff0000","#0000ff","#5555ff","#ff55ff","#00ffff","#ffff00","#00aa00","#ff0000","#0000ff","#ff55ff","#00ffff","#ffff00","#aa0000","#000000","#0000ff","#00aa00","#5555ff","#ff0000","#ff55ff","#00ffff","#ffff00","#000000","#0000ff","#5555ff","#ff55ff","#ff0000","#00ffff","#00aa00","#5555ff","#ffff00","#ff55ff","#0000ff","#ff0000","#00aa00"]}}
}},
{"transform":[{"filter":"datum.s == 'z'"}],
"mark":{"type":"line","strokeWidth":2,"color":"#00ffff","clip":true},
"encoding":{
"x":{"field":"h","type":"quantitative","scale":{"domain":[0,23.7],"nice":false,"zero":false},"axis":{"orient":"top","values":[0,1,2,3,4,5,6,7,8,9,10,11,12,13,14,15,16,17,18,19,20,21,22,23],"labels":false,"title":null}},
"y":{"field":"v","type":"quantitative","scale":{"domain":[-40,50],"nice":false,"zero":false},"axis":{"orient":"right","values":[-40,-30,-20,-10,0,10,20,30,40,50],"labels":false,"title":null}}
}}
],
"resolve":{"axis":{"x":"independent","y":"independent"}}
}
